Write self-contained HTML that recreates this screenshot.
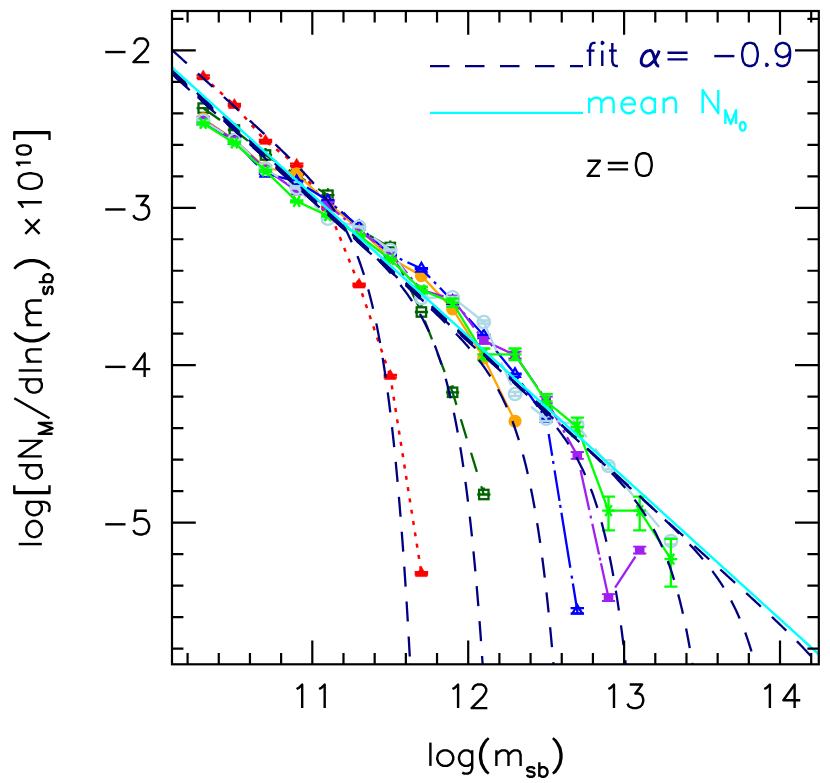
<!DOCTYPE html><html><head><meta charset="utf-8"><title>plot</title><style>html,body{margin:0;padding:0;background:#fff;font-family:"Liberation Sans",sans-serif}svg{display:block}.t path{vector-effect:non-scaling-stroke}</style></head><body>
<svg width="830" height="783" viewBox="0 0 830 783">
<rect width="830" height="783" fill="#fff"/>
<defs><clipPath id="cp"><rect x="172.0" y="11.0" width="646.8" height="653.3"/></clipPath></defs>
<g clip-path="url(#cp)">
<polyline points="203.2,76.6 234.4,105.2 265.5,141.0 296.7,164.9 327.9,207.8" fill="none" stroke="#f00" stroke-width="2.5" stroke-dasharray="4 7.5" stroke-dashoffset="0.25"/>
<line x1="327.9" y1="207.8" x2="359.1" y2="284.8" stroke="#f00" stroke-width="2.5" stroke-dasharray="4 7.7" stroke-dashoffset="3.5"/>
<line x1="359.1" y1="284.8" x2="390.3" y2="376.1" stroke="#f00" stroke-width="2.5" stroke-dasharray="4 7.7" stroke-dashoffset="2.8"/>
<line x1="390.3" y1="376.1" x2="421.4" y2="573.3" stroke="#f00" stroke-width="2.5" stroke-dasharray="4 7.44" stroke-dashoffset="2.0"/>
<path d="M203.2 70.0 L209.0 79.9 L197.4 79.9 Z" fill="#f00" stroke="#f00" stroke-width="0.6"/>
<path d="M196.5 75.4 H209.9 M196.5 77.8 H209.9 M203.2 75.4 V77.8" stroke="#f00" stroke-width="2.3" fill="none"/>
<path d="M234.4 98.6 L240.2 108.5 L228.6 108.5 Z" fill="#f00" stroke="#f00" stroke-width="0.6"/>
<path d="M227.7 104.0 H241.1 M227.7 106.4 H241.1 M234.4 104.0 V106.4" stroke="#f00" stroke-width="2.3" fill="none"/>
<path d="M265.5 134.4 L271.3 144.3 L259.7 144.3 Z" fill="#f00" stroke="#f00" stroke-width="0.6"/>
<path d="M258.8 139.8 H272.2 M258.8 142.2 H272.2 M265.5 139.8 V142.2" stroke="#f00" stroke-width="2.3" fill="none"/>
<path d="M296.7 158.3 L302.5 168.2 L290.9 168.2 Z" fill="#f00" stroke="#f00" stroke-width="0.6"/>
<path d="M290.0 163.7 H303.4 M290.0 166.1 H303.4 M296.7 163.7 V166.1" stroke="#f00" stroke-width="2.3" fill="none"/>
<path d="M327.9 201.2 L333.7 211.1 L322.1 211.1 Z" fill="#f00" stroke="#f00" stroke-width="0.6"/>
<path d="M321.2 206.6 H334.6 M321.2 209.0 H334.6 M327.9 206.6 V209.0" stroke="#f00" stroke-width="2.3" fill="none"/>
<path d="M359.1 278.2 L364.9 288.1 L353.3 288.1 Z" fill="#f00" stroke="#f00" stroke-width="0.6"/>
<path d="M352.4 283.6 H365.8 M352.4 286.0 H365.8 M359.1 283.6 V286.0" stroke="#f00" stroke-width="2.3" fill="none"/>
<path d="M390.3 369.5 L396.1 379.4 L384.5 379.4 Z" fill="#f00" stroke="#f00" stroke-width="0.6"/>
<path d="M383.6 374.9 H397.0 M383.6 377.3 H397.0 M390.3 374.9 V377.3" stroke="#f00" stroke-width="2.3" fill="none"/>
<path d="M421.4 566.7 L427.2 576.6 L415.6 576.6 Z" fill="#f00" stroke="#f00" stroke-width="0.6"/>
<path d="M414.7 572.1 H428.1 M414.7 574.5 H428.1 M421.4 572.1 V574.5" stroke="#f00" stroke-width="2.3" fill="none"/>
<polyline points="203.2,108.1 234.4,130.0 265.5,155.0 296.7,175.0 327.9,195.2 359.1,229.5 390.3,247.5 421.4,312.0 452.6,392.3 483.8,494.5" fill="none" stroke="#006400" stroke-width="2.3" stroke-dasharray="20 15" stroke-dashoffset="34.4"/>
<rect x="198.5" y="103.4" width="9.4" height="9.4" fill="none" stroke="#006400" stroke-width="2.3"/>
<path d="M196.6 108.1 H209.8 M203.2 101.1 V104.1" stroke="#006400" stroke-width="2.3" fill="none"/>
<rect x="229.7" y="125.3" width="9.4" height="9.4" fill="none" stroke="#006400" stroke-width="2.3"/>
<path d="M227.8 130.0 H241.0 M234.4 123.0 V126.0" stroke="#006400" stroke-width="2.3" fill="none"/>
<rect x="260.8" y="150.3" width="9.4" height="9.4" fill="none" stroke="#006400" stroke-width="2.3"/>
<path d="M258.9 155.0 H272.1 M265.5 148.0 V151.0" stroke="#006400" stroke-width="2.3" fill="none"/>
<rect x="292.0" y="170.3" width="9.4" height="9.4" fill="none" stroke="#006400" stroke-width="2.3"/>
<path d="M290.1 175.0 H303.3 M296.7 168.0 V171.0" stroke="#006400" stroke-width="2.3" fill="none"/>
<rect x="323.2" y="190.5" width="9.4" height="9.4" fill="none" stroke="#006400" stroke-width="2.3"/>
<path d="M321.3 195.2 H334.5 M327.9 188.2 V191.2" stroke="#006400" stroke-width="2.3" fill="none"/>
<rect x="354.4" y="224.8" width="9.4" height="9.4" fill="none" stroke="#006400" stroke-width="2.3"/>
<path d="M352.5 229.5 H365.7 M359.1 222.5 V225.5" stroke="#006400" stroke-width="2.3" fill="none"/>
<rect x="385.6" y="242.8" width="9.4" height="9.4" fill="none" stroke="#006400" stroke-width="2.3"/>
<path d="M383.7 247.5 H396.9 M390.3 240.5 V243.5" stroke="#006400" stroke-width="2.3" fill="none"/>
<rect x="416.7" y="307.3" width="9.4" height="9.4" fill="none" stroke="#006400" stroke-width="2.3"/>
<path d="M414.8 312.0 H428.0 M421.4 305.0 V308.0" stroke="#006400" stroke-width="2.3" fill="none"/>
<rect x="447.9" y="387.6" width="9.4" height="9.4" fill="none" stroke="#006400" stroke-width="2.3"/>
<path d="M446.0 392.3 H459.2 M452.6 385.3 V388.3" stroke="#006400" stroke-width="2.3" fill="none"/>
<rect x="479.1" y="489.8" width="9.4" height="9.4" fill="none" stroke="#006400" stroke-width="2.3"/>
<path d="M477.2 494.5 H490.4 M483.8 487.5 V490.5" stroke="#006400" stroke-width="2.3" fill="none"/>
<polyline points="203.2,118.7 234.4,140.0 265.5,167.8 296.7,173.7 327.9,203.0 359.1,229.0 390.3,258.0 421.4,275.7 452.6,308.9 483.8,358.0 515.0,421.2" fill="none" stroke="#ffa500" stroke-width="2.3"/>
<circle cx="203.2" cy="118.7" r="6.5" fill="#ffa500"/>
<circle cx="234.4" cy="140.0" r="6.5" fill="#ffa500"/>
<circle cx="265.5" cy="167.8" r="6.5" fill="#ffa500"/>
<circle cx="296.7" cy="173.7" r="6.5" fill="#ffa500"/>
<circle cx="327.9" cy="203.0" r="6.5" fill="#ffa500"/>
<circle cx="359.1" cy="229.0" r="6.5" fill="#ffa500"/>
<circle cx="390.3" cy="258.0" r="6.5" fill="#ffa500"/>
<circle cx="421.4" cy="275.7" r="6.5" fill="#ffa500"/>
<circle cx="452.6" cy="308.9" r="6.5" fill="#ffa500"/>
<circle cx="483.8" cy="358.0" r="6.5" fill="#ffa500"/>
<circle cx="515.0" cy="421.2" r="6.5" fill="#ffa500"/>
<polyline points="203.2,121.5 234.4,141.0 265.5,173.7 296.7,181.3 327.9,200.5 359.1,226.5 390.3,254.5 421.4,268.6 452.6,301.0 483.8,335.4 515.0,374.0 546.2,418.7" fill="none" stroke="#00f" stroke-width="2.3" stroke-dasharray="28 5.5 3 5.5"/>
<line x1="546.2" y1="418.7" x2="577.3" y2="610.8" stroke="#00f" stroke-width="2.3" stroke-dasharray="0 15.5 22 5.3 3 6.5 31 4 3 5 55.7 8 3 5 60"/>
<path d="M203.2 115.8 L208.1 124.3 L198.2 124.3 Z" fill="none" stroke="#00f" stroke-width="2.3" stroke-linejoin="miter"/>
<path d="M196.5 121.1 H209.9 M196.5 121.9 H209.9 M203.2 121.1 V121.9" stroke="#00f" stroke-width="2.3" fill="none"/>
<path d="M234.4 135.3 L239.3 143.8 L229.4 143.8 Z" fill="none" stroke="#00f" stroke-width="2.3" stroke-linejoin="miter"/>
<path d="M227.7 140.6 H241.1 M227.7 141.4 H241.1 M234.4 140.6 V141.4" stroke="#00f" stroke-width="2.3" fill="none"/>
<path d="M265.5 168.0 L270.5 176.5 L260.6 176.5 Z" fill="none" stroke="#00f" stroke-width="2.3" stroke-linejoin="miter"/>
<path d="M258.8 173.3 H272.2 M258.8 174.1 H272.2 M265.5 173.3 V174.1" stroke="#00f" stroke-width="2.3" fill="none"/>
<path d="M296.7 175.6 L301.7 184.2 L291.8 184.2 Z" fill="none" stroke="#00f" stroke-width="2.3" stroke-linejoin="miter"/>
<path d="M290.0 180.9 H303.4 M290.0 181.7 H303.4 M296.7 180.9 V181.7" stroke="#00f" stroke-width="2.3" fill="none"/>
<path d="M327.9 194.8 L332.8 203.3 L323.0 203.3 Z" fill="none" stroke="#00f" stroke-width="2.3" stroke-linejoin="miter"/>
<path d="M321.2 200.1 H334.6 M321.2 200.9 H334.6 M327.9 200.1 V200.9" stroke="#00f" stroke-width="2.3" fill="none"/>
<path d="M359.1 220.8 L364.0 229.3 L354.1 229.3 Z" fill="none" stroke="#00f" stroke-width="2.3" stroke-linejoin="miter"/>
<path d="M352.4 226.1 H365.8 M352.4 226.9 H365.8 M359.1 226.1 V226.9" stroke="#00f" stroke-width="2.3" fill="none"/>
<path d="M390.3 248.8 L395.2 257.4 L385.3 257.4 Z" fill="none" stroke="#00f" stroke-width="2.3" stroke-linejoin="miter"/>
<path d="M383.6 254.1 H397.0 M383.6 254.9 H397.0 M390.3 254.1 V254.9" stroke="#00f" stroke-width="2.3" fill="none"/>
<path d="M421.4 262.9 L426.4 271.5 L416.5 271.5 Z" fill="none" stroke="#00f" stroke-width="2.3" stroke-linejoin="miter"/>
<path d="M414.7 268.2 H428.1 M414.7 269.0 H428.1 M421.4 268.2 V269.0" stroke="#00f" stroke-width="2.3" fill="none"/>
<path d="M452.6 295.3 L457.6 303.9 L447.7 303.9 Z" fill="none" stroke="#00f" stroke-width="2.3" stroke-linejoin="miter"/>
<path d="M445.9 300.6 H459.3 M445.9 301.4 H459.3 M452.6 300.6 V301.4" stroke="#00f" stroke-width="2.3" fill="none"/>
<path d="M483.8 329.7 L488.7 338.2 L478.9 338.2 Z" fill="none" stroke="#00f" stroke-width="2.3" stroke-linejoin="miter"/>
<path d="M477.1 335.0 H490.5 M477.1 335.8 H490.5 M483.8 335.0 V335.8" stroke="#00f" stroke-width="2.3" fill="none"/>
<path d="M515.0 368.3 L519.9 376.9 L510.0 376.9 Z" fill="none" stroke="#00f" stroke-width="2.3" stroke-linejoin="miter"/>
<path d="M508.3 373.6 H521.7 M508.3 374.4 H521.7 M515.0 373.6 V374.4" stroke="#00f" stroke-width="2.3" fill="none"/>
<path d="M546.2 413.0 L551.1 421.6 L541.2 421.6 Z" fill="none" stroke="#00f" stroke-width="2.3" stroke-linejoin="miter"/>
<path d="M539.5 418.3 H552.9 M539.5 419.1 H552.9 M546.2 418.3 V419.1" stroke="#00f" stroke-width="2.3" fill="none"/>
<path d="M577.3 605.1 L582.3 613.6 L572.4 613.6 Z" fill="none" stroke="#00f" stroke-width="2.3" stroke-linejoin="miter"/>
<path d="M570.6 608.2 H584.0 M570.6 613.3 H584.0 M577.3 608.2 V613.3" stroke="#00f" stroke-width="2.3" fill="none"/>
<polyline points="203.2,120.0 234.4,140.0 265.5,169.0 296.7,191.0 327.9,205.4 359.1,230.5 390.3,253.5 421.4,290.0 452.6,299.0 483.8,340.5 515.0,355.0 546.2,400.0 577.3,455.4" fill="none" stroke="#a020f0" stroke-width="2.3" stroke-dasharray="32 5 3 5"/>
<line x1="577.3" y1="455.4" x2="608.5" y2="597.6" stroke="#a020f0" stroke-width="2.3" stroke-dasharray="0 15 41 5.5 3 5.5 31.5 3 3 3 40"/>
<line x1="608.5" y1="597.6" x2="639.7" y2="550.1" stroke="#a020f0" stroke-width="2.3" stroke-dasharray="0 12 37 20"/>
<rect x="198.4" y="115.8" width="9.6" height="8.4" fill="#a020f0"/>
<path d="M196.6 116.6 H209.8 M196.6 123.4 H209.8" stroke="#a020f0" stroke-width="1.8" fill="none"/>
<rect x="229.6" y="135.8" width="9.6" height="8.4" fill="#a020f0"/>
<path d="M227.8 136.6 H241.0 M227.8 143.4 H241.0" stroke="#a020f0" stroke-width="1.8" fill="none"/>
<rect x="260.7" y="164.8" width="9.6" height="8.4" fill="#a020f0"/>
<path d="M258.9 165.6 H272.1 M258.9 172.4 H272.1" stroke="#a020f0" stroke-width="1.8" fill="none"/>
<rect x="291.9" y="186.8" width="9.6" height="8.4" fill="#a020f0"/>
<path d="M290.1 187.6 H303.3 M290.1 194.4 H303.3" stroke="#a020f0" stroke-width="1.8" fill="none"/>
<rect x="323.1" y="201.2" width="9.6" height="8.4" fill="#a020f0"/>
<path d="M321.3 202.0 H334.5 M321.3 208.8 H334.5" stroke="#a020f0" stroke-width="1.8" fill="none"/>
<rect x="354.3" y="226.3" width="9.6" height="8.4" fill="#a020f0"/>
<path d="M352.5 227.1 H365.7 M352.5 233.9 H365.7" stroke="#a020f0" stroke-width="1.8" fill="none"/>
<rect x="385.5" y="249.3" width="9.6" height="8.4" fill="#a020f0"/>
<path d="M383.7 250.1 H396.9 M383.7 256.9 H396.9" stroke="#a020f0" stroke-width="1.8" fill="none"/>
<rect x="416.6" y="285.8" width="9.6" height="8.4" fill="#a020f0"/>
<path d="M414.8 286.6 H428.0 M414.8 293.4 H428.0" stroke="#a020f0" stroke-width="1.8" fill="none"/>
<rect x="447.8" y="294.8" width="9.6" height="8.4" fill="#a020f0"/>
<path d="M446.0 295.6 H459.2 M446.0 302.4 H459.2" stroke="#a020f0" stroke-width="1.8" fill="none"/>
<rect x="479.0" y="336.3" width="9.6" height="8.4" fill="#a020f0"/>
<path d="M477.2 337.1 H490.4 M477.2 343.9 H490.4" stroke="#a020f0" stroke-width="1.8" fill="none"/>
<rect x="510.2" y="350.8" width="9.6" height="8.4" fill="#a020f0"/>
<path d="M508.4 351.6 H521.6 M508.4 358.4 H521.6" stroke="#a020f0" stroke-width="1.8" fill="none"/>
<rect x="541.4" y="395.8" width="9.6" height="8.4" fill="#a020f0"/>
<path d="M539.6 396.6 H552.8 M539.6 403.4 H552.8" stroke="#a020f0" stroke-width="1.8" fill="none"/>
<rect x="572.5" y="451.2" width="9.6" height="8.4" fill="#a020f0"/>
<path d="M570.7 452.0 H583.9 M570.7 458.8 H583.9" stroke="#a020f0" stroke-width="1.8" fill="none"/>
<rect x="603.7" y="593.4" width="9.6" height="8.4" fill="#a020f0"/>
<path d="M601.9 594.2 H615.1 M601.9 601.0 H615.1" stroke="#a020f0" stroke-width="1.8" fill="none"/>
<rect x="634.9" y="545.9" width="9.6" height="8.4" fill="#a020f0"/>
<path d="M633.1 546.7 H646.3 M633.1 553.5 H646.3" stroke="#a020f0" stroke-width="1.8" fill="none"/>
<polyline points="203.2,120.8 234.4,140.0 265.5,169.0 296.7,188.0 327.9,218.7 359.1,226.8 390.3,250.0 421.4,298.0 452.6,297.3" fill="none" stroke="#add8e6" stroke-width="2.3" stroke-dasharray="24 11"/>
<line x1="452.6" y1="297.3" x2="483.8" y2="322.0" stroke="#add8e6" stroke-width="2.3" stroke-dasharray="100"/>
<line x1="483.8" y1="322.0" x2="515.0" y2="394.0" stroke="#add8e6" stroke-width="2.3" stroke-dasharray="31.7 12.3 25 9.5"/>
<line x1="515.0" y1="394.0" x2="546.2" y2="418.7" stroke="#add8e6" stroke-width="2.3" stroke-dasharray="0 20.5 19.3"/>
<line x1="546.2" y1="418.7" x2="577.3" y2="425.0" stroke="#add8e6" stroke-width="2.3" stroke-dasharray="0 10.8 20.9"/>
<line x1="577.3" y1="425.0" x2="608.5" y2="466.0" stroke="#add8e6" stroke-width="2.3" stroke-dasharray="15.4 14 22.1"/>
<line x1="608.5" y1="466.0" x2="670.9" y2="541.0" stroke="#add8e6" stroke-width="2.3" stroke-dasharray="0 8 30.5 17 24 40"/>
<circle cx="203.2" cy="120.8" r="6.2" fill="none" stroke="#add8e6" stroke-width="2.3"/>
<path d="M197.2 120.3 H209.2 M197.2 121.3 H209.2 M203.2 120.3 V121.3" stroke="#add8e6" stroke-width="2.3" fill="none"/>
<circle cx="234.4" cy="140.0" r="6.2" fill="none" stroke="#add8e6" stroke-width="2.3"/>
<path d="M228.4 139.5 H240.4 M228.4 140.5 H240.4 M234.4 139.5 V140.5" stroke="#add8e6" stroke-width="2.3" fill="none"/>
<circle cx="265.5" cy="169.0" r="6.2" fill="none" stroke="#add8e6" stroke-width="2.3"/>
<path d="M259.5 168.5 H271.5 M259.5 169.5 H271.5 M265.5 168.5 V169.5" stroke="#add8e6" stroke-width="2.3" fill="none"/>
<circle cx="296.7" cy="188.0" r="6.2" fill="none" stroke="#add8e6" stroke-width="2.3"/>
<path d="M290.7 187.5 H302.7 M290.7 188.5 H302.7 M296.7 187.5 V188.5" stroke="#add8e6" stroke-width="2.3" fill="none"/>
<circle cx="327.9" cy="218.7" r="6.2" fill="none" stroke="#add8e6" stroke-width="2.3"/>
<path d="M321.9 218.2 H333.9 M321.9 219.2 H333.9 M327.9 218.2 V219.2" stroke="#add8e6" stroke-width="2.3" fill="none"/>
<circle cx="359.1" cy="226.8" r="6.2" fill="none" stroke="#add8e6" stroke-width="2.3"/>
<path d="M353.1 226.3 H365.1 M353.1 227.3 H365.1 M359.1 226.3 V227.3" stroke="#add8e6" stroke-width="2.3" fill="none"/>
<circle cx="390.3" cy="250.0" r="6.2" fill="none" stroke="#add8e6" stroke-width="2.3"/>
<path d="M384.3 249.5 H396.3 M384.3 250.5 H396.3 M390.3 249.5 V250.5" stroke="#add8e6" stroke-width="2.3" fill="none"/>
<circle cx="421.4" cy="298.0" r="6.2" fill="none" stroke="#add8e6" stroke-width="2.3"/>
<path d="M415.4 297.5 H427.4 M415.4 298.5 H427.4 M421.4 297.5 V298.5" stroke="#add8e6" stroke-width="2.3" fill="none"/>
<circle cx="452.6" cy="297.3" r="6.2" fill="none" stroke="#add8e6" stroke-width="2.3"/>
<path d="M446.6 296.8 H458.6 M446.6 297.8 H458.6 M452.6 296.8 V297.8" stroke="#add8e6" stroke-width="2.3" fill="none"/>
<circle cx="483.8" cy="322.0" r="6.2" fill="none" stroke="#add8e6" stroke-width="2.3"/>
<path d="M477.8 320.5 H489.8 M477.8 323.5 H489.8 M483.8 320.5 V323.5" stroke="#add8e6" stroke-width="2.3" fill="none"/>
<circle cx="515.0" cy="394.0" r="6.2" fill="none" stroke="#add8e6" stroke-width="2.3"/>
<path d="M509.0 392.0 H521.0 M509.0 396.0 H521.0 M515.0 392.0 V396.0" stroke="#add8e6" stroke-width="2.3" fill="none"/>
<circle cx="546.2" cy="418.7" r="6.2" fill="none" stroke="#add8e6" stroke-width="2.3"/>
<path d="M540.2 416.4 H552.2 M540.2 421.0 H552.2 M546.2 416.4 V421.0" stroke="#add8e6" stroke-width="2.3" fill="none"/>
<circle cx="577.3" cy="425.0" r="6.2" fill="none" stroke="#add8e6" stroke-width="2.3"/>
<path d="M571.3 422.2 H583.3 M571.3 427.8 H583.3 M577.3 422.2 V427.8" stroke="#add8e6" stroke-width="2.3" fill="none"/>
<circle cx="608.5" cy="466.0" r="6.2" fill="none" stroke="#add8e6" stroke-width="2.3"/>
<path d="M602.5 462.7 H614.5 M602.5 469.3 H614.5 M608.5 462.7 V469.3" stroke="#add8e6" stroke-width="2.3" fill="none"/>
<circle cx="670.9" cy="541.0" r="6.2" fill="none" stroke="#add8e6" stroke-width="2.3"/>
<path d="M664.9 537.7 H676.9 M664.9 544.3 H676.9 M670.9 537.7 V544.3" stroke="#add8e6" stroke-width="2.3" fill="none"/>
<polyline points="203.2,123.4 234.4,142.9 265.5,170.9 296.7,201.3 327.9,215.7 359.1,235.5 390.3,259.3 421.4,290.0 452.6,302.7 483.8,354.3 515.0,354.3 546.2,401.3 577.3,427.0 608.5,510.7 639.7,510.7 670.9,559.2" fill="none" stroke="#0f0" stroke-width="2.3"/>
<path d="M196.8 123.4 H209.6 M200.0 117.9 L206.4 128.9 M206.4 117.9 L200.0 128.9 " stroke="#0f0" stroke-width="2.3" fill="none"/>
<path d="M203.2 122.4 V124.4 M196.6 122.4 H209.8 M196.6 124.4 H209.8" stroke="#0f0" stroke-width="2.3" fill="none"/>
<path d="M228.0 142.9 H240.8 M231.2 137.4 L237.6 148.4 M237.6 137.4 L231.2 148.4 " stroke="#0f0" stroke-width="2.3" fill="none"/>
<path d="M234.4 141.9 V143.9 M227.8 141.9 H241.0 M227.8 143.9 H241.0" stroke="#0f0" stroke-width="2.3" fill="none"/>
<path d="M259.1 170.9 H271.9 M262.3 165.4 L268.7 176.4 M268.7 165.4 L262.3 176.4 " stroke="#0f0" stroke-width="2.3" fill="none"/>
<path d="M265.5 169.9 V171.9 M258.9 169.9 H272.1 M258.9 171.9 H272.1" stroke="#0f0" stroke-width="2.3" fill="none"/>
<path d="M290.3 201.3 H303.1 M293.5 195.8 L299.9 206.8 M299.9 195.8 L293.5 206.8 " stroke="#0f0" stroke-width="2.3" fill="none"/>
<path d="M296.7 200.3 V202.3 M290.1 200.3 H303.3 M290.1 202.3 H303.3" stroke="#0f0" stroke-width="2.3" fill="none"/>
<path d="M321.5 215.7 H334.3 M324.7 210.2 L331.1 221.2 M331.1 210.2 L324.7 221.2 " stroke="#0f0" stroke-width="2.3" fill="none"/>
<path d="M327.9 214.7 V216.7 M321.3 214.7 H334.5 M321.3 216.7 H334.5" stroke="#0f0" stroke-width="2.3" fill="none"/>
<path d="M352.7 235.5 H365.5 M355.9 230.0 L362.3 241.0 M362.3 230.0 L355.9 241.0 " stroke="#0f0" stroke-width="2.3" fill="none"/>
<path d="M359.1 234.5 V236.5 M352.5 234.5 H365.7 M352.5 236.5 H365.7" stroke="#0f0" stroke-width="2.3" fill="none"/>
<path d="M383.9 259.3 H396.7 M387.1 253.8 L393.5 264.8 M393.5 253.8 L387.1 264.8 " stroke="#0f0" stroke-width="2.3" fill="none"/>
<path d="M390.3 258.3 V260.3 M383.7 258.3 H396.9 M383.7 260.3 H396.9" stroke="#0f0" stroke-width="2.3" fill="none"/>
<path d="M415.0 290.0 H427.8 M418.2 284.5 L424.6 295.5 M424.6 284.5 L418.2 295.5 " stroke="#0f0" stroke-width="2.3" fill="none"/>
<path d="M421.4 287.0 V293.0 M414.8 287.0 H428.0 M414.8 293.0 H428.0" stroke="#0f0" stroke-width="2.3" fill="none"/>
<path d="M446.2 302.7 H459.0 M449.4 297.2 L455.8 308.2 M455.8 297.2 L449.4 308.2 " stroke="#0f0" stroke-width="2.3" fill="none"/>
<path d="M452.6 298.7 V306.7 M446.0 298.7 H459.2 M446.0 306.7 H459.2" stroke="#0f0" stroke-width="2.3" fill="none"/>
<path d="M477.4 354.3 H490.2 M480.6 348.8 L487.0 359.8 M487.0 348.8 L480.6 359.8 " stroke="#0f0" stroke-width="2.3" fill="none"/>
<path d="M483.8 348.5 V360.1 M477.2 348.5 H490.4 M477.2 360.1 H490.4" stroke="#0f0" stroke-width="2.3" fill="none"/>
<path d="M508.6 354.3 H521.4 M511.8 348.8 L518.2 359.8 M518.2 348.8 L511.8 359.8 " stroke="#0f0" stroke-width="2.3" fill="none"/>
<path d="M515.0 348.5 V360.1 M508.4 348.5 H521.6 M508.4 360.1 H521.6" stroke="#0f0" stroke-width="2.3" fill="none"/>
<path d="M539.8 401.3 H552.6 M543.0 395.8 L549.4 406.8 M549.4 395.8 L543.0 406.8 " stroke="#0f0" stroke-width="2.3" fill="none"/>
<path d="M546.2 394.2 V408.5 M539.6 394.2 H552.8 M539.6 408.5 H552.8" stroke="#0f0" stroke-width="2.3" fill="none"/>
<path d="M570.9 427.0 H583.7 M574.1 421.5 L580.5 432.5 M580.5 421.5 L574.1 432.5 " stroke="#0f0" stroke-width="2.3" fill="none"/>
<path d="M577.3 417.7 V436.0 M570.7 417.7 H583.9 M570.7 436.0 H583.9" stroke="#0f0" stroke-width="2.3" fill="none"/>
<path d="M602.1 510.7 H614.9 M605.3 505.2 L611.7 516.2 M611.7 505.2 L605.3 516.2 " stroke="#0f0" stroke-width="2.3" fill="none"/>
<path d="M608.5 496.6 V530.4 M601.9 496.6 H615.1 M601.9 530.4 H615.1" stroke="#0f0" stroke-width="2.3" fill="none"/>
<path d="M633.3 510.7 H646.1 M636.5 505.2 L642.9 516.2 M642.9 505.2 L636.5 516.2 " stroke="#0f0" stroke-width="2.3" fill="none"/>
<path d="M639.7 496.6 V530.4 M633.1 496.6 H646.3 M633.1 530.4 H646.3" stroke="#0f0" stroke-width="2.3" fill="none"/>
<path d="M664.5 559.2 H677.3 M667.7 553.7 L674.1 564.7 M674.1 553.7 L667.7 564.7 " stroke="#0f0" stroke-width="2.3" fill="none"/>
<path d="M670.9 538.8 V586.6 M664.3 538.8 H677.5 M664.3 586.6 H677.5" stroke="#0f0" stroke-width="2.3" fill="none"/>
<polyline points="172.0,50.0 173.0,50.9 174.0,51.8 175.0,52.7 176.0,53.6 177.0,54.5 178.0,55.4 179.0,56.3 180.0,57.2 181.0,58.1 182.0,59.0 183.0,60.0 184.0,60.9 185.0,61.8 186.0,62.7 187.0,63.6 188.0,64.5 189.0,65.4 190.0,66.3 191.0,67.2 192.0,68.1 193.0,69.0 194.0,69.9 195.0,70.8 196.0,71.7 197.0,72.6 198.0,73.5 199.0,74.4 200.0,75.3 201.0,76.2 202.0,77.1 203.0,78.0 204.0,78.9 205.0,79.9 206.0,80.8 207.0,81.7 208.0,82.6 209.0,83.5 210.0,84.4 211.0,85.3 212.0,86.2 213.0,87.1 214.0,88.0 215.0,88.9 216.0,89.8 217.0,90.7 218.0,91.6 219.0,92.5 220.0,93.4 221.0,94.4 222.0,95.3 223.0,96.2 224.0,97.1 225.0,98.0 226.0,98.9 227.0,99.8 228.0,100.7 229.0,101.6 230.0,102.5 231.0,103.4 232.0,104.3 233.0,105.3 234.0,106.2 235.0,107.1 236.0,108.0 237.0,108.9 238.0,109.8 239.0,110.7 240.0,111.6 241.0,112.5 242.0,113.5 243.0,114.4 244.0,115.3 245.0,116.2 246.0,117.1 247.0,118.0 248.0,119.0 249.0,119.9 250.0,120.8 251.0,121.7 252.0,122.6 253.0,123.5 254.0,124.5 255.0,125.4 256.0,126.3 257.0,127.2 258.0,128.2 259.0,129.1 260.0,130.0 261.0,130.9 262.0,131.9 263.0,132.8 264.0,133.7 265.0,134.6 266.0,135.6 267.0,136.5 268.0,137.4 269.0,138.4 270.0,139.3 271.0,140.3 272.0,141.2 273.0,142.1 274.0,143.1 275.0,144.0 276.0,145.0 277.0,145.9 278.0,146.9 279.0,147.8 280.0,148.8 281.0,149.8 282.0,150.7 283.0,151.7 284.0,152.7 285.0,153.6 286.0,154.6 287.0,155.6 288.0,156.6 289.0,157.5 290.0,158.5 291.0,159.5 292.0,160.5 293.0,161.5 294.0,162.5 295.0,163.5 296.0,164.5 297.0,165.6 298.0,166.6 299.0,167.6 300.0,168.6 301.0,169.7 302.0,170.7 303.0,171.8 304.0,172.8 305.0,173.9 306.0,175.0 307.0,176.1 308.0,177.2 309.0,178.3 310.0,179.4 311.0,180.5 312.0,181.6 313.0,182.7 314.0,183.9 315.0,185.0 316.0,186.2 317.0,187.4 318.0,188.6 319.0,189.8 320.0,191.0 321.0,192.3 322.0,193.5 323.0,194.8 324.0,196.1 325.0,197.4 326.0,198.7 327.0,200.0 328.0,201.4 329.0,202.7 330.0,204.1 331.0,205.6 332.0,207.0 333.0,208.5 334.0,210.0 335.0,211.5 336.0,213.0 337.0,214.6 338.0,216.2 339.0,217.9 340.0,219.5 341.0,221.2 342.0,223.0 343.0,224.8 344.0,226.6 345.0,228.5 346.0,230.4 347.0,232.3 348.0,234.3 349.0,236.4 350.0,238.5 351.0,240.6 352.0,242.9 353.0,245.1 354.0,247.5 355.0,249.9 356.0,252.3 357.0,254.9 358.0,257.5 359.0,260.2 360.0,263.0 361.0,265.8 362.0,268.8 363.0,271.8 364.0,274.9 365.0,278.2 366.0,281.5 367.0,285.0 368.0,288.5 369.0,292.2 370.0,296.1 371.0,300.0 372.0,304.1 373.0,308.3 374.0,312.7 375.0,317.2 376.0,321.9 377.0,326.8 378.0,331.9 379.0,337.1 380.0,342.5 381.0,348.2 382.0,354.1 383.0,360.1 384.0,366.5 385.0,373.0 386.0,379.8 387.0,386.9 388.0,394.3 389.0,402.0 390.0,409.9 391.0,418.2 392.0,426.8 393.0,435.8 394.0,445.2 395.0,454.9 396.0,465.0 397.0,475.5 398.0,486.5 399.0,497.9 400.0,509.8 401.0,522.3 402.0,535.2 403.0,548.7 404.0,562.7 405.0,577.3 406.0,592.6 407.0,608.5 408.0,625.1 409.0,642.4 410.0,660.4 411.0,679.2 412.0,698.9" fill="none" stroke="#000080" stroke-width="2.3" stroke-dasharray="20 15" stroke-dashoffset="0"/>
<polyline points="172.0,70.5 173.0,71.4 174.0,72.3 175.0,73.2 176.0,74.1 177.0,75.0 178.0,75.9 179.0,76.8 180.0,77.7 181.0,78.6 182.0,79.5 183.0,80.4 184.0,81.3 185.0,82.2 186.0,83.1 187.0,84.1 188.0,85.0 189.0,85.9 190.0,86.8 191.0,87.7 192.0,88.6 193.0,89.5 194.0,90.4 195.0,91.3 196.0,92.2 197.0,93.1 198.0,94.0 199.0,94.9 200.0,95.8 201.0,96.7 202.0,97.6 203.0,98.5 204.0,99.4 205.0,100.3 206.0,101.2 207.0,102.1 208.0,103.0 209.0,103.9 210.0,104.8 211.0,105.7 212.0,106.6 213.0,107.5 214.0,108.4 215.0,109.3 216.0,110.2 217.0,111.2 218.0,112.1 219.0,113.0 220.0,113.9 221.0,114.8 222.0,115.7 223.0,116.6 224.0,117.5 225.0,118.4 226.0,119.3 227.0,120.2 228.0,121.1 229.0,122.0 230.0,122.9 231.0,123.8 232.0,124.7 233.0,125.6 234.0,126.5 235.0,127.4 236.0,128.3 237.0,129.2 238.0,130.1 239.0,131.0 240.0,131.9 241.0,132.8 242.0,133.7 243.0,134.6 244.0,135.5 245.0,136.4 246.0,137.4 247.0,138.3 248.0,139.2 249.0,140.1 250.0,141.0 251.0,141.9 252.0,142.8 253.0,143.7 254.0,144.6 255.0,145.5 256.0,146.4 257.0,147.3 258.0,148.2 259.0,149.1 260.0,150.0 261.0,150.9 262.0,151.8 263.0,152.7 264.0,153.6 265.0,154.5 266.0,155.4 267.0,156.3 268.0,157.2 269.0,158.1 270.0,159.0 271.0,160.0 272.0,160.9 273.0,161.8 274.0,162.7 275.0,163.6 276.0,164.5 277.0,165.4 278.0,166.3 279.0,167.2 280.0,168.1 281.0,169.0 282.0,169.9 283.0,170.8 284.0,171.7 285.0,172.6 286.0,173.5 287.0,174.4 288.0,175.3 289.0,176.2 290.0,177.2 291.0,178.1 292.0,179.0 293.0,179.9 294.0,180.8 295.0,181.7 296.0,182.6 297.0,183.5 298.0,184.4 299.0,185.3 300.0,186.2 301.0,187.1 302.0,188.0 303.0,188.9 304.0,189.8 305.0,190.8 306.0,191.7 307.0,192.6 308.0,193.5 309.0,194.4 310.0,195.3 311.0,196.2 312.0,197.1 313.0,198.0 314.0,198.9 315.0,199.9 316.0,200.8 317.0,201.7 318.0,202.6 319.0,203.5 320.0,204.4 321.0,205.3 322.0,206.2 323.0,207.2 324.0,208.1 325.0,209.0 326.0,209.9 327.0,210.8 328.0,211.7 329.0,212.7 330.0,213.6 331.0,214.5 332.0,215.4 333.0,216.3 334.0,217.3 335.0,218.2 336.0,219.1 337.0,220.0 338.0,221.0 339.0,221.9 340.0,222.8 341.0,223.7 342.0,224.7 343.0,225.6 344.0,226.5 345.0,227.5 346.0,228.4 347.0,229.3 348.0,230.3 349.0,231.2 350.0,232.2 351.0,233.1 352.0,234.1 353.0,235.0 354.0,235.9 355.0,236.9 356.0,237.9 357.0,238.8 358.0,239.8 359.0,240.7 360.0,241.7 361.0,242.7 362.0,243.6 363.0,244.6 364.0,245.6 365.0,246.5 366.0,247.5 367.0,248.5 368.0,249.5 369.0,250.5 370.0,251.5 371.0,252.5 372.0,253.5 373.0,254.5 374.0,255.5 375.0,256.5 376.0,257.6 377.0,258.6 378.0,259.6 379.0,260.7 380.0,261.7 381.0,262.8 382.0,263.8 383.0,264.9 384.0,266.0 385.0,267.0 386.0,268.1 387.0,269.2 388.0,270.3 389.0,271.5 390.0,272.6 391.0,273.7 392.0,274.9 393.0,276.0 394.0,277.2 395.0,278.4 396.0,279.6 397.0,280.8 398.0,282.0 399.0,283.2 400.0,284.5 401.0,285.8 402.0,287.1 403.0,288.4 404.0,289.7 405.0,291.0 406.0,292.4 407.0,293.7 408.0,295.1 409.0,296.6 410.0,298.0 411.0,299.5 412.0,301.0 413.0,302.5 414.0,304.1 415.0,305.6 416.0,307.3 417.0,308.9 418.0,310.6 419.0,312.3 420.0,314.0 421.0,315.8 422.0,317.7 423.0,319.5 424.0,321.4 425.0,323.4 426.0,325.4 427.0,327.5 428.0,329.6 429.0,331.7 430.0,334.0 431.0,336.2 432.0,338.6 433.0,341.0 434.0,343.5 435.0,346.0 436.0,348.6 437.0,351.3 438.0,354.1 439.0,357.0 440.0,359.9 441.0,363.0 442.0,366.1 443.0,369.4 444.0,372.7 445.0,376.2 446.0,379.8 447.0,383.5 448.0,387.3 449.0,391.3 450.0,395.4 451.0,399.6 452.0,404.0 453.0,408.6 454.0,413.3 455.0,418.2 456.0,423.2 457.0,428.5 458.0,434.0 459.0,439.6 460.0,445.5 461.0,451.6 462.0,458.0 463.0,464.6 464.0,471.4 465.0,478.5 466.0,485.9 467.0,493.6 468.0,501.6 469.0,509.9 470.0,518.6 471.0,527.6 472.0,537.0 473.0,546.7 474.0,556.9 475.0,567.5 476.0,578.5 477.0,590.0 478.0,601.9 479.0,614.4 480.0,627.4 481.0,640.9 482.0,655.0 483.0,669.7 484.0,685.0 485.0,701.0" fill="none" stroke="#000080" stroke-width="2.3" stroke-dasharray="20 15" stroke-dashoffset="1.5"/>
<polyline points="172.0,73.8 173.0,74.7 174.0,75.6 175.0,76.5 176.0,77.4 177.0,78.3 178.0,79.2 179.0,80.1 180.0,81.0 181.0,81.9 182.0,82.8 183.0,83.7 184.0,84.6 185.0,85.5 186.0,86.4 187.0,87.3 188.0,88.3 189.0,89.2 190.0,90.1 191.0,91.0 192.0,91.9 193.0,92.8 194.0,93.7 195.0,94.6 196.0,95.5 197.0,96.4 198.0,97.3 199.0,98.2 200.0,99.1 201.0,100.0 202.0,100.9 203.0,101.8 204.0,102.7 205.0,103.6 206.0,104.5 207.0,105.4 208.0,106.3 209.0,107.2 210.0,108.1 211.0,109.0 212.0,109.9 213.0,110.8 214.0,111.7 215.0,112.6 216.0,113.5 217.0,114.4 218.0,115.4 219.0,116.3 220.0,117.2 221.0,118.1 222.0,119.0 223.0,119.9 224.0,120.8 225.0,121.7 226.0,122.6 227.0,123.5 228.0,124.4 229.0,125.3 230.0,126.2 231.0,127.1 232.0,128.0 233.0,128.9 234.0,129.8 235.0,130.7 236.0,131.6 237.0,132.5 238.0,133.4 239.0,134.3 240.0,135.2 241.0,136.1 242.0,137.0 243.0,137.9 244.0,138.8 245.0,139.7 246.0,140.6 247.0,141.5 248.0,142.5 249.0,143.4 250.0,144.3 251.0,145.2 252.0,146.1 253.0,147.0 254.0,147.9 255.0,148.8 256.0,149.7 257.0,150.6 258.0,151.5 259.0,152.4 260.0,153.3 261.0,154.2 262.0,155.1 263.0,156.0 264.0,156.9 265.0,157.8 266.0,158.7 267.0,159.6 268.0,160.5 269.0,161.4 270.0,162.3 271.0,163.2 272.0,164.1 273.0,165.0 274.0,165.9 275.0,166.8 276.0,167.7 277.0,168.6 278.0,169.6 279.0,170.5 280.0,171.4 281.0,172.3 282.0,173.2 283.0,174.1 284.0,175.0 285.0,175.9 286.0,176.8 287.0,177.7 288.0,178.6 289.0,179.5 290.0,180.4 291.0,181.3 292.0,182.2 293.0,183.1 294.0,184.0 295.0,184.9 296.0,185.8 297.0,186.7 298.0,187.6 299.0,188.5 300.0,189.4 301.0,190.3 302.0,191.2 303.0,192.1 304.0,193.0 305.0,193.9 306.0,194.8 307.0,195.7 308.0,196.7 309.0,197.6 310.0,198.5 311.0,199.4 312.0,200.3 313.0,201.2 314.0,202.1 315.0,203.0 316.0,203.9 317.0,204.8 318.0,205.7 319.0,206.6 320.0,207.5 321.0,208.4 322.0,209.3 323.0,210.2 324.0,211.1 325.0,212.0 326.0,212.9 327.0,213.8 328.0,214.7 329.0,215.6 330.0,216.5 331.0,217.4 332.0,218.3 333.0,219.2 334.0,220.1 335.0,221.1 336.0,222.0 337.0,222.9 338.0,223.8 339.0,224.7 340.0,225.6 341.0,226.5 342.0,227.4 343.0,228.3 344.0,229.2 345.0,230.1 346.0,231.0 347.0,231.9 348.0,232.8 349.0,233.7 350.0,234.6 351.0,235.5 352.0,236.4 353.0,237.3 354.0,238.2 355.0,239.1 356.0,240.0 357.0,241.0 358.0,241.9 359.0,242.8 360.0,243.7 361.0,244.6 362.0,245.5 363.0,246.4 364.0,247.3 365.0,248.2 366.0,249.1 367.0,250.0 368.0,250.9 369.0,251.8 370.0,252.7 371.0,253.6 372.0,254.5 373.0,255.4 374.0,256.4 375.0,257.3 376.0,258.2 377.0,259.1 378.0,260.0 379.0,260.9 380.0,261.8 381.0,262.7 382.0,263.6 383.0,264.5 384.0,265.4 385.0,266.3 386.0,267.3 387.0,268.2 388.0,269.1 389.0,270.0 390.0,270.9 391.0,271.8 392.0,272.7 393.0,273.6 394.0,274.5 395.0,275.5 396.0,276.4 397.0,277.3 398.0,278.2 399.0,279.1 400.0,280.0 401.0,280.9 402.0,281.9 403.0,282.8 404.0,283.7 405.0,284.6 406.0,285.5 407.0,286.4 408.0,287.4 409.0,288.3 410.0,289.2 411.0,290.1 412.0,291.1 413.0,292.0 414.0,292.9 415.0,293.8 416.0,294.8 417.0,295.7 418.0,296.6 419.0,297.6 420.0,298.5 421.0,299.4 422.0,300.4 423.0,301.3 424.0,302.2 425.0,303.2 426.0,304.1 427.0,305.0 428.0,306.0 429.0,306.9 430.0,307.9 431.0,308.8 432.0,309.8 433.0,310.7 434.0,311.7 435.0,312.7 436.0,313.6 437.0,314.6 438.0,315.6 439.0,316.5 440.0,317.5 441.0,318.5 442.0,319.5 443.0,320.4 444.0,321.4 445.0,322.4 446.0,323.4 447.0,324.4 448.0,325.4 449.0,326.4 450.0,327.4 451.0,328.4 452.0,329.5 453.0,330.5 454.0,331.5 455.0,332.6 456.0,333.6 457.0,334.7 458.0,335.7 459.0,336.8 460.0,337.9 461.0,338.9 462.0,340.0 463.0,341.1 464.0,342.2 465.0,343.3 466.0,344.5 467.0,345.6 468.0,346.7 469.0,347.9 470.0,349.1 471.0,350.2 472.0,351.4 473.0,352.6 474.0,353.9 475.0,355.1 476.0,356.3 477.0,357.6 478.0,358.9 479.0,360.2 480.0,361.5 481.0,362.8 482.0,364.2 483.0,365.6 484.0,366.9 485.0,368.4 486.0,369.8 487.0,371.3 488.0,372.8 489.0,374.3 490.0,375.8 491.0,377.4 492.0,379.0 493.0,380.6 494.0,382.3 495.0,384.0 496.0,385.7 497.0,387.5 498.0,389.3 499.0,391.2 500.0,393.1 501.0,395.0 502.0,397.0 503.0,399.1 504.0,401.2 505.0,403.3 506.0,405.5 507.0,407.8 508.0,410.1 509.0,412.5 510.0,414.9 511.0,417.5 512.0,420.1 513.0,422.7 514.0,425.5 515.0,428.3 516.0,431.3 517.0,434.3 518.0,437.4 519.0,440.6 520.0,443.9 521.0,447.4 522.0,450.9 523.0,454.6 524.0,458.4 525.0,462.3 526.0,466.3 527.0,470.5 528.0,474.9 529.0,479.4 530.0,484.1 531.0,488.9 532.0,493.9 533.0,499.1 534.0,504.5 535.0,510.1 536.0,516.0 537.0,522.0 538.0,528.3 539.0,534.8 540.0,541.5 541.0,548.6 542.0,555.9 543.0,563.5 544.0,571.4 545.0,579.6 546.0,588.2 547.0,597.1 548.0,606.3 549.0,616.0 550.0,626.0 551.0,636.5 552.0,647.4 553.0,658.7 554.0,670.5 555.0,682.8 556.0,695.6" fill="none" stroke="#000080" stroke-width="2.3" stroke-dasharray="20 15" stroke-dashoffset="0"/>
<polyline points="172.0,71.5 173.0,72.4 174.0,73.3 175.0,74.2 176.0,75.1 177.0,76.0 178.0,76.9 179.0,77.8 180.0,78.7 181.0,79.6 182.0,80.5 183.0,81.4 184.0,82.3 185.0,83.2 186.0,84.1 187.0,85.0 188.0,86.0 189.0,86.9 190.0,87.8 191.0,88.7 192.0,89.6 193.0,90.5 194.0,91.4 195.0,92.3 196.0,93.2 197.0,94.1 198.0,95.0 199.0,95.9 200.0,96.8 201.0,97.7 202.0,98.6 203.0,99.5 204.0,100.4 205.0,101.3 206.0,102.2 207.0,103.1 208.0,104.0 209.0,104.9 210.0,105.8 211.0,106.7 212.0,107.6 213.0,108.5 214.0,109.4 215.0,110.3 216.0,111.2 217.0,112.1 218.0,113.1 219.0,114.0 220.0,114.9 221.0,115.8 222.0,116.7 223.0,117.6 224.0,118.5 225.0,119.4 226.0,120.3 227.0,121.2 228.0,122.1 229.0,123.0 230.0,123.9 231.0,124.8 232.0,125.7 233.0,126.6 234.0,127.5 235.0,128.4 236.0,129.3 237.0,130.2 238.0,131.1 239.0,132.0 240.0,132.9 241.0,133.8 242.0,134.7 243.0,135.6 244.0,136.5 245.0,137.4 246.0,138.3 247.0,139.2 248.0,140.2 249.0,141.1 250.0,142.0 251.0,142.9 252.0,143.8 253.0,144.7 254.0,145.6 255.0,146.5 256.0,147.4 257.0,148.3 258.0,149.2 259.0,150.1 260.0,151.0 261.0,151.9 262.0,152.8 263.0,153.7 264.0,154.6 265.0,155.5 266.0,156.4 267.0,157.3 268.0,158.2 269.0,159.1 270.0,160.0 271.0,160.9 272.0,161.8 273.0,162.7 274.0,163.6 275.0,164.5 276.0,165.4 277.0,166.3 278.0,167.2 279.0,168.2 280.0,169.1 281.0,170.0 282.0,170.9 283.0,171.8 284.0,172.7 285.0,173.6 286.0,174.5 287.0,175.4 288.0,176.3 289.0,177.2 290.0,178.1 291.0,179.0 292.0,179.9 293.0,180.8 294.0,181.7 295.0,182.6 296.0,183.5 297.0,184.4 298.0,185.3 299.0,186.2 300.0,187.1 301.0,188.0 302.0,188.9 303.0,189.8 304.0,190.7 305.0,191.6 306.0,192.5 307.0,193.4 308.0,194.3 309.0,195.3 310.0,196.2 311.0,197.1 312.0,198.0 313.0,198.9 314.0,199.8 315.0,200.7 316.0,201.6 317.0,202.5 318.0,203.4 319.0,204.3 320.0,205.2 321.0,206.1 322.0,207.0 323.0,207.9 324.0,208.8 325.0,209.7 326.0,210.6 327.0,211.5 328.0,212.4 329.0,213.3 330.0,214.2 331.0,215.1 332.0,216.0 333.0,216.9 334.0,217.8 335.0,218.7 336.0,219.6 337.0,220.5 338.0,221.4 339.0,222.4 340.0,223.3 341.0,224.2 342.0,225.1 343.0,226.0 344.0,226.9 345.0,227.8 346.0,228.7 347.0,229.6 348.0,230.5 349.0,231.4 350.0,232.3 351.0,233.2 352.0,234.1 353.0,235.0 354.0,235.9 355.0,236.8 356.0,237.7 357.0,238.6 358.0,239.5 359.0,240.4 360.0,241.3 361.0,242.2 362.0,243.1 363.0,244.0 364.0,244.9 365.0,245.8 366.0,246.7 367.0,247.6 368.0,248.5 369.0,249.5 370.0,250.4 371.0,251.3 372.0,252.2 373.0,253.1 374.0,254.0 375.0,254.9 376.0,255.8 377.0,256.7 378.0,257.6 379.0,258.5 380.0,259.4 381.0,260.3 382.0,261.2 383.0,262.1 384.0,263.0 385.0,263.9 386.0,264.8 387.0,265.7 388.0,266.6 389.0,267.5 390.0,268.4 391.0,269.3 392.0,270.2 393.0,271.1 394.0,272.0 395.0,272.9 396.0,273.8 397.0,274.7 398.0,275.7 399.0,276.6 400.0,277.5 401.0,278.4 402.0,279.3 403.0,280.2 404.0,281.1 405.0,282.0 406.0,282.9 407.0,283.8 408.0,284.7 409.0,285.6 410.0,286.5 411.0,287.4 412.0,288.3 413.0,289.2 414.0,290.1 415.0,291.0 416.0,291.9 417.0,292.8 418.0,293.7 419.0,294.6 420.0,295.5 421.0,296.4 422.0,297.3 423.0,298.3 424.0,299.2 425.0,300.1 426.0,301.0 427.0,301.9 428.0,302.8 429.0,303.7 430.0,304.6 431.0,305.5 432.0,306.4 433.0,307.3 434.0,308.2 435.0,309.1 436.0,310.0 437.0,310.9 438.0,311.8 439.0,312.7 440.0,313.6 441.0,314.5 442.0,315.4 443.0,316.4 444.0,317.3 445.0,318.2 446.0,319.1 447.0,320.0 448.0,320.9 449.0,321.8 450.0,322.7 451.0,323.6 452.0,324.5 453.0,325.4 454.0,326.3 455.0,327.2 456.0,328.1 457.0,329.0 458.0,330.0 459.0,330.9 460.0,331.8 461.0,332.7 462.0,333.6 463.0,334.5 464.0,335.4 465.0,336.3 466.0,337.2 467.0,338.1 468.0,339.0 469.0,340.0 470.0,340.9 471.0,341.8 472.0,342.7 473.0,343.6 474.0,344.5 475.0,345.4 476.0,346.3 477.0,347.3 478.0,348.2 479.0,349.1 480.0,350.0 481.0,350.9 482.0,351.8 483.0,352.8 484.0,353.7 485.0,354.6 486.0,355.5 487.0,356.4 488.0,357.4 489.0,358.3 490.0,359.2 491.0,360.1 492.0,361.0 493.0,362.0 494.0,362.9 495.0,363.8 496.0,364.8 497.0,365.7 498.0,366.6 499.0,367.5 500.0,368.5 501.0,369.4 502.0,370.4 503.0,371.3 504.0,372.2 505.0,373.2 506.0,374.1 507.0,375.1 508.0,376.0 509.0,377.0 510.0,377.9 511.0,378.9 512.0,379.8 513.0,380.8 514.0,381.7 515.0,382.7 516.0,383.7 517.0,384.6 518.0,385.6 519.0,386.6 520.0,387.5 521.0,388.5 522.0,389.5 523.0,390.5 524.0,391.5 525.0,392.5 526.0,393.5 527.0,394.5 528.0,395.5 529.0,396.5 530.0,397.5 531.0,398.5 532.0,399.6 533.0,400.6 534.0,401.6 535.0,402.7 536.0,403.7 537.0,404.8 538.0,405.9 539.0,406.9 540.0,408.0 541.0,409.1 542.0,410.2 543.0,411.3 544.0,412.4 545.0,413.6 546.0,414.7 547.0,415.8 548.0,417.0 549.0,418.2 550.0,419.3 551.0,420.5 552.0,421.7 553.0,423.0 554.0,424.2 555.0,425.4 556.0,426.7 557.0,428.0 558.0,429.3 559.0,430.6 560.0,431.9 561.0,433.3 562.0,434.7 563.0,436.1 564.0,437.5 565.0,438.9 566.0,440.4 567.0,441.9 568.0,443.4 569.0,444.9 570.0,446.5 571.0,448.1 572.0,449.8 573.0,451.4 574.0,453.1 575.0,454.9 576.0,456.7 577.0,458.5 578.0,460.3 579.0,462.2 580.0,464.2 581.0,466.2 582.0,468.2 583.0,470.3 584.0,472.5 585.0,474.7 586.0,477.0 587.0,479.3 588.0,481.7 589.0,484.2 590.0,486.7 591.0,489.3 592.0,492.0 593.0,494.7 594.0,497.6 595.0,500.5 596.0,503.6 597.0,506.7 598.0,509.9 599.0,513.2 600.0,516.7 601.0,520.2 602.0,523.9 603.0,527.7 604.0,531.7 605.0,535.7 606.0,539.9 607.0,544.3 608.0,548.8 609.0,553.5 610.0,558.4 611.0,563.4 612.0,568.6 613.0,574.1 614.0,579.7 615.0,585.5 616.0,591.6 617.0,597.9 618.0,604.4 619.0,611.2 620.0,618.3 621.0,625.6 622.0,633.2 623.0,641.2 624.0,649.4 625.0,658.0 626.0,667.0 627.0,676.3 628.0,685.9 629.0,696.0" fill="none" stroke="#000080" stroke-width="2.3" stroke-dasharray="20 15" stroke-dashoffset="0"/>
<polyline points="172.0,72.5 173.0,73.4 174.0,74.3 175.0,75.2 176.0,76.1 177.0,77.0 178.0,77.9 179.0,78.8 180.0,79.7 181.0,80.6 182.0,81.5 183.0,82.4 184.0,83.3 185.0,84.2 186.0,85.1 187.0,86.0 188.0,87.0 189.0,87.9 190.0,88.8 191.0,89.7 192.0,90.6 193.0,91.5 194.0,92.4 195.0,93.3 196.0,94.2 197.0,95.1 198.0,96.0 199.0,96.9 200.0,97.8 201.0,98.7 202.0,99.6 203.0,100.5 204.0,101.4 205.0,102.3 206.0,103.2 207.0,104.1 208.0,105.0 209.0,105.9 210.0,106.8 211.0,107.7 212.0,108.6 213.0,109.5 214.0,110.4 215.0,111.3 216.0,112.2 217.0,113.1 218.0,114.1 219.0,115.0 220.0,115.9 221.0,116.8 222.0,117.7 223.0,118.6 224.0,119.5 225.0,120.4 226.0,121.3 227.0,122.2 228.0,123.1 229.0,124.0 230.0,124.9 231.0,125.8 232.0,126.7 233.0,127.6 234.0,128.5 235.0,129.4 236.0,130.3 237.0,131.2 238.0,132.1 239.0,133.0 240.0,133.9 241.0,134.8 242.0,135.7 243.0,136.6 244.0,137.5 245.0,138.4 246.0,139.3 247.0,140.2 248.0,141.2 249.0,142.1 250.0,143.0 251.0,143.9 252.0,144.8 253.0,145.7 254.0,146.6 255.0,147.5 256.0,148.4 257.0,149.3 258.0,150.2 259.0,151.1 260.0,152.0 261.0,152.9 262.0,153.8 263.0,154.7 264.0,155.6 265.0,156.5 266.0,157.4 267.0,158.3 268.0,159.2 269.0,160.1 270.0,161.0 271.0,161.9 272.0,162.8 273.0,163.7 274.0,164.6 275.0,165.5 276.0,166.4 277.0,167.3 278.0,168.2 279.0,169.2 280.0,170.1 281.0,171.0 282.0,171.9 283.0,172.8 284.0,173.7 285.0,174.6 286.0,175.5 287.0,176.4 288.0,177.3 289.0,178.2 290.0,179.1 291.0,180.0 292.0,180.9 293.0,181.8 294.0,182.7 295.0,183.6 296.0,184.5 297.0,185.4 298.0,186.3 299.0,187.2 300.0,188.1 301.0,189.0 302.0,189.9 303.0,190.8 304.0,191.7 305.0,192.6 306.0,193.5 307.0,194.4 308.0,195.3 309.0,196.3 310.0,197.2 311.0,198.1 312.0,199.0 313.0,199.9 314.0,200.8 315.0,201.7 316.0,202.6 317.0,203.5 318.0,204.4 319.0,205.3 320.0,206.2 321.0,207.1 322.0,208.0 323.0,208.9 324.0,209.8 325.0,210.7 326.0,211.6 327.0,212.5 328.0,213.4 329.0,214.3 330.0,215.2 331.0,216.1 332.0,217.0 333.0,217.9 334.0,218.8 335.0,219.7 336.0,220.6 337.0,221.5 338.0,222.4 339.0,223.4 340.0,224.3 341.0,225.2 342.0,226.1 343.0,227.0 344.0,227.9 345.0,228.8 346.0,229.7 347.0,230.6 348.0,231.5 349.0,232.4 350.0,233.3 351.0,234.2 352.0,235.1 353.0,236.0 354.0,236.9 355.0,237.8 356.0,238.7 357.0,239.6 358.0,240.5 359.0,241.4 360.0,242.3 361.0,243.2 362.0,244.1 363.0,245.0 364.0,245.9 365.0,246.8 366.0,247.7 367.0,248.6 368.0,249.5 369.0,250.5 370.0,251.4 371.0,252.3 372.0,253.2 373.0,254.1 374.0,255.0 375.0,255.9 376.0,256.8 377.0,257.7 378.0,258.6 379.0,259.5 380.0,260.4 381.0,261.3 382.0,262.2 383.0,263.1 384.0,264.0 385.0,264.9 386.0,265.8 387.0,266.7 388.0,267.6 389.0,268.5 390.0,269.4 391.0,270.3 392.0,271.2 393.0,272.1 394.0,273.0 395.0,273.9 396.0,274.8 397.0,275.7 398.0,276.6 399.0,277.5 400.0,278.5 401.0,279.4 402.0,280.3 403.0,281.2 404.0,282.1 405.0,283.0 406.0,283.9 407.0,284.8 408.0,285.7 409.0,286.6 410.0,287.5 411.0,288.4 412.0,289.3 413.0,290.2 414.0,291.1 415.0,292.0 416.0,292.9 417.0,293.8 418.0,294.7 419.0,295.6 420.0,296.5 421.0,297.4 422.0,298.3 423.0,299.2 424.0,300.1 425.0,301.0 426.0,301.9 427.0,302.8 428.0,303.7 429.0,304.6 430.0,305.6 431.0,306.5 432.0,307.4 433.0,308.3 434.0,309.2 435.0,310.1 436.0,311.0 437.0,311.9 438.0,312.8 439.0,313.7 440.0,314.6 441.0,315.5 442.0,316.4 443.0,317.3 444.0,318.2 445.0,319.1 446.0,320.0 447.0,320.9 448.0,321.8 449.0,322.7 450.0,323.6 451.0,324.5 452.0,325.4 453.0,326.3 454.0,327.2 455.0,328.1 456.0,329.0 457.0,329.9 458.0,330.8 459.0,331.8 460.0,332.7 461.0,333.6 462.0,334.5 463.0,335.4 464.0,336.3 465.0,337.2 466.0,338.1 467.0,339.0 468.0,339.9 469.0,340.8 470.0,341.7 471.0,342.6 472.0,343.5 473.0,344.4 474.0,345.3 475.0,346.2 476.0,347.1 477.0,348.0 478.0,348.9 479.0,349.8 480.0,350.7 481.0,351.6 482.0,352.5 483.0,353.4 484.0,354.3 485.0,355.2 486.0,356.1 487.0,357.1 488.0,358.0 489.0,358.9 490.0,359.8 491.0,360.7 492.0,361.6 493.0,362.5 494.0,363.4 495.0,364.3 496.0,365.2 497.0,366.1 498.0,367.0 499.0,367.9 500.0,368.8 501.0,369.7 502.0,370.6 503.0,371.5 504.0,372.4 505.0,373.3 506.0,374.2 507.0,375.1 508.0,376.0 509.0,376.9 510.0,377.9 511.0,378.8 512.0,379.7 513.0,380.6 514.0,381.5 515.0,382.4 516.0,383.3 517.0,384.2 518.0,385.1 519.0,386.0 520.0,386.9 521.0,387.8 522.0,388.7 523.0,389.6 524.0,390.5 525.0,391.4 526.0,392.3 527.0,393.3 528.0,394.2 529.0,395.1 530.0,396.0 531.0,396.9 532.0,397.8 533.0,398.7 534.0,399.6 535.0,400.5 536.0,401.4 537.0,402.3 538.0,403.2 539.0,404.1 540.0,405.1 541.0,406.0 542.0,406.9 543.0,407.8 544.0,408.7 545.0,409.6 546.0,410.5 547.0,411.4 548.0,412.3 549.0,413.3 550.0,414.2 551.0,415.1 552.0,416.0 553.0,416.9 554.0,417.8 555.0,418.7 556.0,419.7 557.0,420.6 558.0,421.5 559.0,422.4 560.0,423.3 561.0,424.2 562.0,425.2 563.0,426.1 564.0,427.0 565.0,427.9 566.0,428.8 567.0,429.8 568.0,430.7 569.0,431.6 570.0,432.5 571.0,433.5 572.0,434.4 573.0,435.3 574.0,436.3 575.0,437.2 576.0,438.1 577.0,439.1 578.0,440.0 579.0,440.9 580.0,441.9 581.0,442.8 582.0,443.8 583.0,444.7 584.0,445.7 585.0,446.6 586.0,447.6 587.0,448.5 588.0,449.5 589.0,450.4 590.0,451.4 591.0,452.3 592.0,453.3 593.0,454.3 594.0,455.2 595.0,456.2 596.0,457.2 597.0,458.2 598.0,459.2 599.0,460.1 600.0,461.1 601.0,462.1 602.0,463.1 603.0,464.1 604.0,465.1 605.0,466.1 606.0,467.2 607.0,468.2 608.0,469.2 609.0,470.3 610.0,471.3 611.0,472.3 612.0,473.4 613.0,474.4 614.0,475.5 615.0,476.6 616.0,477.7 617.0,478.8 618.0,479.9 619.0,481.0 620.0,482.1 621.0,483.2 622.0,484.3 623.0,485.5 624.0,486.6 625.0,487.8 626.0,489.0 627.0,490.2 628.0,491.4 629.0,492.6 630.0,493.8 631.0,495.1 632.0,496.4 633.0,497.6 634.0,498.9 635.0,500.3 636.0,501.6 637.0,502.9 638.0,504.3 639.0,505.7 640.0,507.1 641.0,508.6 642.0,510.0 643.0,511.5 644.0,513.0 645.0,514.6 646.0,516.2 647.0,517.8 648.0,519.4 649.0,521.1 650.0,522.8 651.0,524.5 652.0,526.3 653.0,528.1 654.0,530.0 655.0,531.9 656.0,533.8 657.0,535.8 658.0,537.9 659.0,540.0 660.0,542.1 661.0,544.3 662.0,546.6 663.0,548.9 664.0,551.3 665.0,553.8 666.0,556.3 667.0,558.9 668.0,561.6 669.0,564.4 670.0,567.2 671.0,570.2 672.0,573.2 673.0,576.3 674.0,579.6 675.0,582.9 676.0,586.3 677.0,589.9 678.0,593.6 679.0,597.4 680.0,601.3 681.0,605.4 682.0,609.6 683.0,614.0 684.0,618.5 685.0,623.2 686.0,628.0 687.0,633.1 688.0,638.3 689.0,643.7 690.0,649.3 691.0,655.2 692.0,661.2 693.0,667.5 694.0,674.1 695.0,680.9 696.0,687.9 697.0,695.3" fill="none" stroke="#000080" stroke-width="2.3" stroke-dasharray="20 15" stroke-dashoffset="0"/>
<polyline points="172.0,73.3 173.0,74.2 174.0,75.1 175.0,76.0 176.0,76.9 177.0,77.8 178.0,78.7 179.0,79.6 180.0,80.5 181.0,81.4 182.0,82.3 183.0,83.2 184.0,84.1 185.0,85.0 186.0,85.9 187.0,86.8 188.0,87.8 189.0,88.7 190.0,89.6 191.0,90.5 192.0,91.4 193.0,92.3 194.0,93.2 195.0,94.1 196.0,95.0 197.0,95.9 198.0,96.8 199.0,97.7 200.0,98.6 201.0,99.5 202.0,100.4 203.0,101.3 204.0,102.2 205.0,103.1 206.0,104.0 207.0,104.9 208.0,105.8 209.0,106.7 210.0,107.6 211.0,108.5 212.0,109.4 213.0,110.3 214.0,111.2 215.0,112.1 216.0,113.0 217.0,113.9 218.0,114.9 219.0,115.8 220.0,116.7 221.0,117.6 222.0,118.5 223.0,119.4 224.0,120.3 225.0,121.2 226.0,122.1 227.0,123.0 228.0,123.9 229.0,124.8 230.0,125.7 231.0,126.6 232.0,127.5 233.0,128.4 234.0,129.3 235.0,130.2 236.0,131.1 237.0,132.0 238.0,132.9 239.0,133.8 240.0,134.7 241.0,135.6 242.0,136.5 243.0,137.4 244.0,138.3 245.0,139.2 246.0,140.1 247.0,141.0 248.0,142.0 249.0,142.9 250.0,143.8 251.0,144.7 252.0,145.6 253.0,146.5 254.0,147.4 255.0,148.3 256.0,149.2 257.0,150.1 258.0,151.0 259.0,151.9 260.0,152.8 261.0,153.7 262.0,154.6 263.0,155.5 264.0,156.4 265.0,157.3 266.0,158.2 267.0,159.1 268.0,160.0 269.0,160.9 270.0,161.8 271.0,162.7 272.0,163.6 273.0,164.5 274.0,165.4 275.0,166.3 276.0,167.2 277.0,168.1 278.0,169.0 279.0,170.0 280.0,170.9 281.0,171.8 282.0,172.7 283.0,173.6 284.0,174.5 285.0,175.4 286.0,176.3 287.0,177.2 288.0,178.1 289.0,179.0 290.0,179.9 291.0,180.8 292.0,181.7 293.0,182.6 294.0,183.5 295.0,184.4 296.0,185.3 297.0,186.2 298.0,187.1 299.0,188.0 300.0,188.9 301.0,189.8 302.0,190.7 303.0,191.6 304.0,192.5 305.0,193.4 306.0,194.3 307.0,195.2 308.0,196.1 309.0,197.1 310.0,198.0 311.0,198.9 312.0,199.8 313.0,200.7 314.0,201.6 315.0,202.5 316.0,203.4 317.0,204.3 318.0,205.2 319.0,206.1 320.0,207.0 321.0,207.9 322.0,208.8 323.0,209.7 324.0,210.6 325.0,211.5 326.0,212.4 327.0,213.3 328.0,214.2 329.0,215.1 330.0,216.0 331.0,216.9 332.0,217.8 333.0,218.7 334.0,219.6 335.0,220.5 336.0,221.4 337.0,222.3 338.0,223.2 339.0,224.2 340.0,225.1 341.0,226.0 342.0,226.9 343.0,227.8 344.0,228.7 345.0,229.6 346.0,230.5 347.0,231.4 348.0,232.3 349.0,233.2 350.0,234.1 351.0,235.0 352.0,235.9 353.0,236.8 354.0,237.7 355.0,238.6 356.0,239.5 357.0,240.4 358.0,241.3 359.0,242.2 360.0,243.1 361.0,244.0 362.0,244.9 363.0,245.8 364.0,246.7 365.0,247.6 366.0,248.5 367.0,249.4 368.0,250.3 369.0,251.3 370.0,252.2 371.0,253.1 372.0,254.0 373.0,254.9 374.0,255.8 375.0,256.7 376.0,257.6 377.0,258.5 378.0,259.4 379.0,260.3 380.0,261.2 381.0,262.1 382.0,263.0 383.0,263.9 384.0,264.8 385.0,265.7 386.0,266.6 387.0,267.5 388.0,268.4 389.0,269.3 390.0,270.2 391.0,271.1 392.0,272.0 393.0,272.9 394.0,273.8 395.0,274.7 396.0,275.6 397.0,276.5 398.0,277.4 399.0,278.3 400.0,279.3 401.0,280.2 402.0,281.1 403.0,282.0 404.0,282.9 405.0,283.8 406.0,284.7 407.0,285.6 408.0,286.5 409.0,287.4 410.0,288.3 411.0,289.2 412.0,290.1 413.0,291.0 414.0,291.9 415.0,292.8 416.0,293.7 417.0,294.6 418.0,295.5 419.0,296.4 420.0,297.3 421.0,298.2 422.0,299.1 423.0,300.0 424.0,300.9 425.0,301.8 426.0,302.7 427.0,303.6 428.0,304.5 429.0,305.4 430.0,306.4 431.0,307.3 432.0,308.2 433.0,309.1 434.0,310.0 435.0,310.9 436.0,311.8 437.0,312.7 438.0,313.6 439.0,314.5 440.0,315.4 441.0,316.3 442.0,317.2 443.0,318.1 444.0,319.0 445.0,319.9 446.0,320.8 447.0,321.7 448.0,322.6 449.0,323.5 450.0,324.4 451.0,325.3 452.0,326.2 453.0,327.1 454.0,328.0 455.0,328.9 456.0,329.8 457.0,330.7 458.0,331.6 459.0,332.5 460.0,333.5 461.0,334.4 462.0,335.3 463.0,336.2 464.0,337.1 465.0,338.0 466.0,338.9 467.0,339.8 468.0,340.7 469.0,341.6 470.0,342.5 471.0,343.4 472.0,344.3 473.0,345.2 474.0,346.1 475.0,347.0 476.0,347.9 477.0,348.8 478.0,349.7 479.0,350.6 480.0,351.5 481.0,352.4 482.0,353.3 483.0,354.2 484.0,355.1 485.0,356.0 486.0,356.9 487.0,357.8 488.0,358.7 489.0,359.6 490.0,360.5 491.0,361.5 492.0,362.4 493.0,363.3 494.0,364.2 495.0,365.1 496.0,366.0 497.0,366.9 498.0,367.8 499.0,368.7 500.0,369.6 501.0,370.5 502.0,371.4 503.0,372.3 504.0,373.2 505.0,374.1 506.0,375.0 507.0,375.9 508.0,376.8 509.0,377.7 510.0,378.6 511.0,379.5 512.0,380.4 513.0,381.3 514.0,382.2 515.0,383.1 516.0,384.0 517.0,384.9 518.0,385.8 519.0,386.7 520.0,387.7 521.0,388.6 522.0,389.5 523.0,390.4 524.0,391.3 525.0,392.2 526.0,393.1 527.0,394.0 528.0,394.9 529.0,395.8 530.0,396.7 531.0,397.6 532.0,398.5 533.0,399.4 534.0,400.3 535.0,401.2 536.0,402.1 537.0,403.0 538.0,403.9 539.0,404.8 540.0,405.7 541.0,406.6 542.0,407.5 543.0,408.4 544.0,409.3 545.0,410.2 546.0,411.1 547.0,412.0 548.0,412.9 549.0,413.9 550.0,414.8 551.0,415.7 552.0,416.6 553.0,417.5 554.0,418.4 555.0,419.3 556.0,420.2 557.0,421.1 558.0,422.0 559.0,422.9 560.0,423.8 561.0,424.7 562.0,425.6 563.0,426.5 564.0,427.4 565.0,428.3 566.0,429.2 567.0,430.1 568.0,431.0 569.0,431.9 570.0,432.8 571.0,433.7 572.0,434.6 573.0,435.5 574.0,436.4 575.0,437.4 576.0,438.3 577.0,439.2 578.0,440.1 579.0,441.0 580.0,441.9 581.0,442.8 582.0,443.7 583.0,444.6 584.0,445.5 585.0,446.4 586.0,447.3 587.0,448.2 588.0,449.1 589.0,450.0 590.0,450.9 591.0,451.8 592.0,452.7 593.0,453.6 594.0,454.5 595.0,455.4 596.0,456.4 597.0,457.3 598.0,458.2 599.0,459.1 600.0,460.0 601.0,460.9 602.0,461.8 603.0,462.7 604.0,463.6 605.0,464.5 606.0,465.4 607.0,466.3 608.0,467.2 609.0,468.1 610.0,469.0 611.0,470.0 612.0,470.9 613.0,471.8 614.0,472.7 615.0,473.6 616.0,474.5 617.0,475.4 618.0,476.3 619.0,477.2 620.0,478.1 621.0,479.1 622.0,480.0 623.0,480.9 624.0,481.8 625.0,482.7 626.0,483.6 627.0,484.5 628.0,485.4 629.0,486.3 630.0,487.3 631.0,488.2 632.0,489.1 633.0,490.0 634.0,490.9 635.0,491.8 636.0,492.8 637.0,493.7 638.0,494.6 639.0,495.5 640.0,496.4 641.0,497.4 642.0,498.3 643.0,499.2 644.0,500.1 645.0,501.1 646.0,502.0 647.0,502.9 648.0,503.8 649.0,504.8 650.0,505.7 651.0,506.6 652.0,507.6 653.0,508.5 654.0,509.4 655.0,510.4 656.0,511.3 657.0,512.2 658.0,513.2 659.0,514.1 660.0,515.1 661.0,516.0 662.0,517.0 663.0,517.9 664.0,518.9 665.0,519.8 666.0,520.8 667.0,521.7 668.0,522.7 669.0,523.7 670.0,524.6 671.0,525.6 672.0,526.6 673.0,527.5 674.0,528.5 675.0,529.5 676.0,530.5 677.0,531.5 678.0,532.5 679.0,533.5 680.0,534.5 681.0,535.5 682.0,536.5 683.0,537.5 684.0,538.5 685.0,539.6 686.0,540.6 687.0,541.6 688.0,542.7 689.0,543.7 690.0,544.8 691.0,545.9 692.0,546.9 693.0,548.0 694.0,549.1 695.0,550.2 696.0,551.3 697.0,552.4 698.0,553.6 699.0,554.7 700.0,555.8 701.0,557.0 702.0,558.2 703.0,559.3 704.0,560.5 705.0,561.7 706.0,563.0 707.0,564.2 708.0,565.4 709.0,566.7 710.0,568.0 711.0,569.3 712.0,570.6 713.0,571.9 714.0,573.3 715.0,574.7 716.0,576.1 717.0,577.5 718.0,578.9 719.0,580.4 720.0,581.9 721.0,583.4 722.0,584.9 723.0,586.5 724.0,588.1 725.0,589.8 726.0,591.4 727.0,593.1 728.0,594.9 729.0,596.7 730.0,598.5 731.0,600.3 732.0,602.2 733.0,604.2 734.0,606.2 735.0,608.2 736.0,610.3 737.0,612.5 738.0,614.7 739.0,617.0 740.0,619.3 741.0,621.7 742.0,624.2 743.0,626.7 744.0,629.3 745.0,632.0 746.0,634.7 747.0,637.6 748.0,640.5 749.0,643.6 750.0,646.7 751.0,649.9 752.0,653.2 753.0,656.7 754.0,660.2 755.0,663.9 756.0,667.7 757.0,671.7 758.0,675.7 759.0,679.9 760.0,684.3 761.0,688.8 762.0,693.5 763.0,698.4" fill="none" stroke="#000080" stroke-width="2.3" stroke-dasharray="20 15" stroke-dashoffset="0"/>
<polyline points="172.0,74.1 173.0,75.0 174.0,75.9 175.0,76.8 176.0,77.7 177.0,78.6 178.0,79.5 179.0,80.4 180.0,81.3 181.0,82.2 182.0,83.1 183.0,84.0 184.0,84.9 185.0,85.8 186.0,86.7 187.0,87.6 188.0,88.6 189.0,89.5 190.0,90.4 191.0,91.3 192.0,92.2 193.0,93.1 194.0,94.0 195.0,94.9 196.0,95.8 197.0,96.7 198.0,97.6 199.0,98.5 200.0,99.4 201.0,100.3 202.0,101.2 203.0,102.1 204.0,103.0 205.0,103.9 206.0,104.8 207.0,105.7 208.0,106.6 209.0,107.5 210.0,108.4 211.0,109.3 212.0,110.2 213.0,111.1 214.0,112.0 215.0,112.9 216.0,113.8 217.0,114.7 218.0,115.7 219.0,116.6 220.0,117.5 221.0,118.4 222.0,119.3 223.0,120.2 224.0,121.1 225.0,122.0 226.0,122.9 227.0,123.8 228.0,124.7 229.0,125.6 230.0,126.5 231.0,127.4 232.0,128.3 233.0,129.2 234.0,130.1 235.0,131.0 236.0,131.9 237.0,132.8 238.0,133.7 239.0,134.6 240.0,135.5 241.0,136.4 242.0,137.3 243.0,138.2 244.0,139.1 245.0,140.0 246.0,140.9 247.0,141.8 248.0,142.8 249.0,143.7 250.0,144.6 251.0,145.5 252.0,146.4 253.0,147.3 254.0,148.2 255.0,149.1 256.0,150.0 257.0,150.9 258.0,151.8 259.0,152.7 260.0,153.6 261.0,154.5 262.0,155.4 263.0,156.3 264.0,157.2 265.0,158.1 266.0,159.0 267.0,159.9 268.0,160.8 269.0,161.7 270.0,162.6 271.0,163.5 272.0,164.4 273.0,165.3 274.0,166.2 275.0,167.1 276.0,168.0 277.0,168.9 278.0,169.8 279.0,170.8 280.0,171.7 281.0,172.6 282.0,173.5 283.0,174.4 284.0,175.3 285.0,176.2 286.0,177.1 287.0,178.0 288.0,178.9 289.0,179.8 290.0,180.7 291.0,181.6 292.0,182.5 293.0,183.4 294.0,184.3 295.0,185.2 296.0,186.1 297.0,187.0 298.0,187.9 299.0,188.8 300.0,189.7 301.0,190.6 302.0,191.5 303.0,192.4 304.0,193.3 305.0,194.2 306.0,195.1 307.0,196.0 308.0,196.9 309.0,197.9 310.0,198.8 311.0,199.7 312.0,200.6 313.0,201.5 314.0,202.4 315.0,203.3 316.0,204.2 317.0,205.1 318.0,206.0 319.0,206.9 320.0,207.8 321.0,208.7 322.0,209.6 323.0,210.5 324.0,211.4 325.0,212.3 326.0,213.2 327.0,214.1 328.0,215.0 329.0,215.9 330.0,216.8 331.0,217.7 332.0,218.6 333.0,219.5 334.0,220.4 335.0,221.3 336.0,222.2 337.0,223.1 338.0,224.0 339.0,225.0 340.0,225.9 341.0,226.8 342.0,227.7 343.0,228.6 344.0,229.5 345.0,230.4 346.0,231.3 347.0,232.2 348.0,233.1 349.0,234.0 350.0,234.9 351.0,235.8 352.0,236.7 353.0,237.6 354.0,238.5 355.0,239.4 356.0,240.3 357.0,241.2 358.0,242.1 359.0,243.0 360.0,243.9 361.0,244.8 362.0,245.7 363.0,246.6 364.0,247.5 365.0,248.4 366.0,249.3 367.0,250.2 368.0,251.1 369.0,252.1 370.0,253.0 371.0,253.9 372.0,254.8 373.0,255.7 374.0,256.6 375.0,257.5 376.0,258.4 377.0,259.3 378.0,260.2 379.0,261.1 380.0,262.0 381.0,262.9 382.0,263.8 383.0,264.7 384.0,265.6 385.0,266.5 386.0,267.4 387.0,268.3 388.0,269.2 389.0,270.1 390.0,271.0 391.0,271.9 392.0,272.8 393.0,273.7 394.0,274.6 395.0,275.5 396.0,276.4 397.0,277.3 398.0,278.2 399.0,279.1 400.0,280.1 401.0,281.0 402.0,281.9 403.0,282.8 404.0,283.7 405.0,284.6 406.0,285.5 407.0,286.4 408.0,287.3 409.0,288.2 410.0,289.1 411.0,290.0 412.0,290.9 413.0,291.8 414.0,292.7 415.0,293.6 416.0,294.5 417.0,295.4 418.0,296.3 419.0,297.2 420.0,298.1 421.0,299.0 422.0,299.9 423.0,300.8 424.0,301.7 425.0,302.6 426.0,303.5 427.0,304.4 428.0,305.3 429.0,306.2 430.0,307.2 431.0,308.1 432.0,309.0 433.0,309.9 434.0,310.8 435.0,311.7 436.0,312.6 437.0,313.5 438.0,314.4 439.0,315.3 440.0,316.2 441.0,317.1 442.0,318.0 443.0,318.9 444.0,319.8 445.0,320.7 446.0,321.6 447.0,322.5 448.0,323.4 449.0,324.3 450.0,325.2 451.0,326.1 452.0,327.0 453.0,327.9 454.0,328.8 455.0,329.7 456.0,330.6 457.0,331.5 458.0,332.4 459.0,333.3 460.0,334.3 461.0,335.2 462.0,336.1 463.0,337.0 464.0,337.9 465.0,338.8 466.0,339.7 467.0,340.6 468.0,341.5 469.0,342.4 470.0,343.3 471.0,344.2 472.0,345.1 473.0,346.0 474.0,346.9 475.0,347.8 476.0,348.7 477.0,349.6 478.0,350.5 479.0,351.4 480.0,352.3 481.0,353.2 482.0,354.1 483.0,355.0 484.0,355.9 485.0,356.8 486.0,357.7 487.0,358.6 488.0,359.5 489.0,360.4 490.0,361.3 491.0,362.3 492.0,363.2 493.0,364.1 494.0,365.0 495.0,365.9 496.0,366.8 497.0,367.7 498.0,368.6 499.0,369.5 500.0,370.4 501.0,371.3 502.0,372.2 503.0,373.1 504.0,374.0 505.0,374.9 506.0,375.8 507.0,376.7 508.0,377.6 509.0,378.5 510.0,379.4 511.0,380.3 512.0,381.2 513.0,382.1 514.0,383.0 515.0,383.9 516.0,384.8 517.0,385.7 518.0,386.6 519.0,387.5 520.0,388.4 521.0,389.4 522.0,390.3 523.0,391.2 524.0,392.1 525.0,393.0 526.0,393.9 527.0,394.8 528.0,395.7 529.0,396.6 530.0,397.5 531.0,398.4 532.0,399.3 533.0,400.2 534.0,401.1 535.0,402.0 536.0,402.9 537.0,403.8 538.0,404.7 539.0,405.6 540.0,406.5 541.0,407.4 542.0,408.3 543.0,409.2 544.0,410.1 545.0,411.0 546.0,411.9 547.0,412.8 548.0,413.7 549.0,414.6 550.0,415.5 551.0,416.5 552.0,417.4 553.0,418.3 554.0,419.2 555.0,420.1 556.0,421.0 557.0,421.9 558.0,422.8 559.0,423.7 560.0,424.6 561.0,425.5 562.0,426.4 563.0,427.3 564.0,428.2 565.0,429.1 566.0,430.0 567.0,430.9 568.0,431.8 569.0,432.7 570.0,433.6 571.0,434.5 572.0,435.4 573.0,436.3 574.0,437.2 575.0,438.1 576.0,439.0 577.0,439.9 578.0,440.8 579.0,441.7 580.0,442.6 581.0,443.5 582.0,444.5 583.0,445.4 584.0,446.3 585.0,447.2 586.0,448.1 587.0,449.0 588.0,449.9 589.0,450.8 590.0,451.7 591.0,452.6 592.0,453.5 593.0,454.4 594.0,455.3 595.0,456.2 596.0,457.1 597.0,458.0 598.0,458.9 599.0,459.8 600.0,460.7 601.0,461.6 602.0,462.5 603.0,463.4 604.0,464.3 605.0,465.2 606.0,466.1 607.0,467.0 608.0,467.9 609.0,468.8 610.0,469.7 611.0,470.6 612.0,471.6 613.0,472.5 614.0,473.4 615.0,474.3 616.0,475.2 617.0,476.1 618.0,477.0 619.0,477.9 620.0,478.8 621.0,479.7 622.0,480.6 623.0,481.5 624.0,482.4 625.0,483.3 626.0,484.2 627.0,485.1 628.0,486.0 629.0,486.9 630.0,487.8 631.0,488.7 632.0,489.6 633.0,490.5 634.0,491.4 635.0,492.3 636.0,493.2 637.0,494.1 638.0,495.0 639.0,495.9 640.0,496.8 641.0,497.8 642.0,498.7 643.0,499.6 644.0,500.5 645.0,501.4 646.0,502.3 647.0,503.2 648.0,504.1 649.0,505.0 650.0,505.9 651.0,506.8 652.0,507.7 653.0,508.6 654.0,509.5 655.0,510.4 656.0,511.3 657.0,512.2 658.0,513.1 659.0,514.0 660.0,514.9 661.0,515.8 662.0,516.7 663.0,517.6 664.0,518.5 665.0,519.4 666.0,520.3 667.0,521.2 668.0,522.1 669.0,523.0 670.0,524.0 671.0,524.9 672.0,525.8 673.0,526.7 674.0,527.6 675.0,528.5 676.0,529.4 677.0,530.3 678.0,531.2 679.0,532.1 680.0,533.0 681.0,533.9 682.0,534.8 683.0,535.7 684.0,536.6 685.0,537.5 686.0,538.4 687.0,539.3 688.0,540.2 689.0,541.1 690.0,542.0 691.0,542.9 692.0,543.8 693.0,544.7 694.0,545.7 695.0,546.6 696.0,547.5 697.0,548.4 698.0,549.3 699.0,550.2 700.0,551.1 701.0,552.0 702.0,552.9 703.0,553.8 704.0,554.7 705.0,555.6 706.0,556.5 707.0,557.4 708.0,558.3 709.0,559.2 710.0,560.1 711.0,561.0 712.0,561.9 713.0,562.9 714.0,563.8 715.0,564.7 716.0,565.6 717.0,566.5 718.0,567.4 719.0,568.3 720.0,569.2 721.0,570.1 722.0,571.0 723.0,571.9 724.0,572.8 725.0,573.7 726.0,574.6 727.0,575.6 728.0,576.5 729.0,577.4 730.0,578.3 731.0,579.2 732.0,580.1 733.0,581.0 734.0,581.9 735.0,582.8 736.0,583.7 737.0,584.7 738.0,585.6 739.0,586.5 740.0,587.4 741.0,588.3 742.0,589.2 743.0,590.1 744.0,591.0 745.0,592.0 746.0,592.9 747.0,593.8 748.0,594.7 749.0,595.6 750.0,596.5 751.0,597.5 752.0,598.4 753.0,599.3 754.0,600.2 755.0,601.1 756.0,602.1 757.0,603.0 758.0,603.9 759.0,604.8 760.0,605.8 761.0,606.7 762.0,607.6 763.0,608.5 764.0,609.5 765.0,610.4 766.0,611.3 767.0,612.3 768.0,613.2 769.0,614.1 770.0,615.1 771.0,616.0 772.0,617.0 773.0,617.9 774.0,618.9 775.0,619.8 776.0,620.8 777.0,621.7 778.0,622.7 779.0,623.6 780.0,624.6 781.0,625.5 782.0,626.5 783.0,627.5 784.0,628.4 785.0,629.4 786.0,630.4 787.0,631.4 788.0,632.3 789.0,633.3 790.0,634.3 791.0,635.3 792.0,636.3 793.0,637.3 794.0,638.3 795.0,639.3 796.0,640.3 797.0,641.4 798.0,642.4 799.0,643.4 800.0,644.4 801.0,645.5 802.0,646.5 803.0,647.6 804.0,648.7 805.0,649.7 806.0,650.8 807.0,651.9 808.0,653.0 809.0,654.1 810.0,655.2 811.0,656.3 812.0,657.4 813.0,658.6 814.0,659.7 815.0,660.9 816.0,662.1 817.0,663.3 818.0,664.5 819.0,665.7" fill="none" stroke="#000080" stroke-width="2.3" stroke-dasharray="20 15" stroke-dashoffset="-4"/>
<line x1="172.0" y1="67.5" x2="818.8" y2="654.3" stroke="#0ff" stroke-width="2.4"/>
</g>
<path d="M187.59 664.3 v-11.4 M187.59 11.0 v11.4 M218.77 664.3 v-11.4 M218.77 11.0 v11.4 M249.95 664.3 v-11.4 M249.95 11.0 v11.4 M281.13 664.3 v-11.4 M281.13 11.0 v11.4 M312.31 664.3 v-23.8 M312.31 11.0 v23.8 M343.49 664.3 v-11.4 M343.49 11.0 v11.4 M374.67 664.3 v-11.4 M374.67 11.0 v11.4 M405.85 664.3 v-11.4 M405.85 11.0 v11.4 M437.03 664.3 v-11.4 M437.03 11.0 v11.4 M468.21 664.3 v-23.8 M468.21 11.0 v23.8 M499.39 664.3 v-11.4 M499.39 11.0 v11.4 M530.57 664.3 v-11.4 M530.57 11.0 v11.4 M561.75 664.3 v-11.4 M561.75 11.0 v11.4 M592.93 664.3 v-11.4 M592.93 11.0 v11.4 M624.11 664.3 v-23.8 M624.11 11.0 v23.8 M655.29 664.3 v-11.4 M655.29 11.0 v11.4 M686.47 664.3 v-11.4 M686.47 11.0 v11.4 M717.65 664.3 v-11.4 M717.65 11.0 v11.4 M748.83 664.3 v-11.4 M748.83 11.0 v11.4 M780.01 664.3 v-23.8 M780.01 11.0 v23.8 M811.19 664.3 v-11.4 M811.19 11.0 v11.4 M172.0 18.87 h11.4 M818.8 18.87 h-11.4 M172.0 50.36 h23.8 M818.8 50.36 h-23.8 M172.0 81.84 h11.4 M818.8 81.84 h-11.4 M172.0 113.32 h11.4 M818.8 113.32 h-11.4 M172.0 144.81 h11.4 M818.8 144.81 h-11.4 M172.0 176.29 h11.4 M818.8 176.29 h-11.4 M172.0 207.78 h23.8 M818.8 207.78 h-23.8 M172.0 239.26 h11.4 M818.8 239.26 h-11.4 M172.0 270.75 h11.4 M818.8 270.75 h-11.4 M172.0 302.23 h11.4 M818.8 302.23 h-11.4 M172.0 333.71 h11.4 M818.8 333.71 h-11.4 M172.0 365.20 h23.8 M818.8 365.20 h-23.8 M172.0 396.68 h11.4 M818.8 396.68 h-11.4 M172.0 428.17 h11.4 M818.8 428.17 h-11.4 M172.0 459.65 h11.4 M818.8 459.65 h-11.4 M172.0 491.14 h11.4 M818.8 491.14 h-11.4 M172.0 522.62 h23.8 M818.8 522.62 h-23.8 M172.0 554.10 h11.4 M818.8 554.10 h-11.4 M172.0 585.59 h11.4 M818.8 585.59 h-11.4 M172.0 617.07 h11.4 M818.8 617.07 h-11.4 M172.0 648.56 h11.4 M818.8 648.56 h-11.4 " stroke="#000" stroke-width="2.2" fill="none"/>
<rect x="172.0" y="11.0" width="646.8" height="653.3" fill="none" stroke="#000" stroke-width="2.2"/>
<g transform="translate(152.50 62.17) scale(1.125 1.125)" fill="none" stroke="#000" stroke-linecap="butt" stroke-linejoin="round" vector-effect="non-scaling-stroke" class="t"><path transform="translate(-46.000 0.000) scale(1.0)" d="M4 -9 L22 -9" stroke-width="2.4"/><path transform="translate(-20.000 0.000) scale(1.0)" d="M4 -16 L4 -17 L5 -19 L6 -20 L8 -21 L12 -21 L14 -20 L15 -19 L16 -17 L16 -15 L15 -13 L13 -10 L3 0 L17 0" stroke-width="2.4"/></g>
<g transform="translate(152.50 219.59) scale(1.125 1.125)" fill="none" stroke="#000" stroke-linecap="butt" stroke-linejoin="round" vector-effect="non-scaling-stroke" class="t"><path transform="translate(-46.000 0.000) scale(1.0)" d="M4 -9 L22 -9" stroke-width="2.4"/><path transform="translate(-20.000 0.000) scale(1.0)" d="M3 -4 L4 -2 L5 -1 L8 0 L11 0 L14 -1 L16 -3 L17 -6 L17 -8 L16 -11 L15 -12 L13 -13 L10 -13 L16 -21 L5 -21" stroke-width="2.4"/></g>
<g transform="translate(152.50 377.01) scale(1.125 1.125)" fill="none" stroke="#000" stroke-linecap="butt" stroke-linejoin="round" vector-effect="non-scaling-stroke" class="t"><path transform="translate(-46.000 0.000) scale(1.0)" d="M4 -9 L22 -9" stroke-width="2.4"/><path transform="translate(-20.000 0.000) scale(1.0)" d="M13 -7 L3 -7 L13 -21 L13 -7 M13 -7 L13 0 M13 -7 L18 -7" stroke-width="2.4"/></g>
<g transform="translate(152.50 534.43) scale(1.125 1.125)" fill="none" stroke="#000" stroke-linecap="butt" stroke-linejoin="round" vector-effect="non-scaling-stroke" class="t"><path transform="translate(-46.000 0.000) scale(1.0)" d="M4 -9 L22 -9" stroke-width="2.4"/><path transform="translate(-20.000 0.000) scale(1.0)" d="M3 -4 L4 -2 L5 -1 L8 0 L11 0 L14 -1 L16 -3 L17 -6 L17 -8 L16 -11 L14 -13 L11 -14 L8 -14 L5 -13 L4 -12 L5 -21 L15 -21" stroke-width="2.4"/></g>
<g transform="translate(312.31 708.10) scale(1.125 1.125)" fill="none" stroke="#000" stroke-linecap="butt" stroke-linejoin="round" vector-effect="non-scaling-stroke" class="t"><path transform="translate(-20.000 0.000) scale(1.0)" d="M6 -17 L8 -18 L11 -21 L11 0" stroke-width="2.4"/><path transform="translate(0.000 0.000) scale(1.0)" d="M6 -17 L8 -18 L11 -21 L11 0" stroke-width="2.4"/></g>
<g transform="translate(468.21 708.10) scale(1.125 1.125)" fill="none" stroke="#000" stroke-linecap="butt" stroke-linejoin="round" vector-effect="non-scaling-stroke" class="t"><path transform="translate(-20.000 0.000) scale(1.0)" d="M6 -17 L8 -18 L11 -21 L11 0" stroke-width="2.4"/><path transform="translate(0.000 0.000) scale(1.0)" d="M4 -16 L4 -17 L5 -19 L6 -20 L8 -21 L12 -21 L14 -20 L15 -19 L16 -17 L16 -15 L15 -13 L13 -10 L3 0 L17 0" stroke-width="2.4"/></g>
<g transform="translate(624.11 708.10) scale(1.125 1.125)" fill="none" stroke="#000" stroke-linecap="butt" stroke-linejoin="round" vector-effect="non-scaling-stroke" class="t"><path transform="translate(-20.000 0.000) scale(1.0)" d="M6 -17 L8 -18 L11 -21 L11 0" stroke-width="2.4"/><path transform="translate(0.000 0.000) scale(1.0)" d="M3 -4 L4 -2 L5 -1 L8 0 L11 0 L14 -1 L16 -3 L17 -6 L17 -8 L16 -11 L15 -12 L13 -13 L10 -13 L16 -21 L5 -21" stroke-width="2.4"/></g>
<g transform="translate(780.01 708.10) scale(1.125 1.125)" fill="none" stroke="#000" stroke-linecap="butt" stroke-linejoin="round" vector-effect="non-scaling-stroke" class="t"><path transform="translate(-20.000 0.000) scale(1.0)" d="M6 -17 L8 -18 L11 -21 L11 0" stroke-width="2.4"/><path transform="translate(0.000 0.000) scale(1.0)" d="M13 -7 L3 -7 L13 -21 L13 -7 M13 -7 L13 0 M13 -7 L18 -7" stroke-width="2.4"/></g>
<g transform="translate(426.00 765.90) scale(1.1 1.11)" fill="none" stroke="#000" stroke-linecap="butt" stroke-linejoin="round" vector-effect="non-scaling-stroke" class="t"><path transform="translate(0.000 0.000) scale(1.0)" d="M4 -21 L4 0" stroke-width="2.4"/><path transform="translate(8.000 0.000) scale(1.0)" d="M2.22 -8 L2.22 -6 L3.34 -3 L5.58 -1 L7.82 0 L11.18 0 L13.42 -1 L15.66 -3 L16.78 -6 L16.78 -8 L15.66 -11 L13.42 -13 L11.18 -14 L7.82 -14 L5.58 -13 L3.34 -11 L2.22 -8" stroke-width="2.4"/><path transform="translate(27.000 0.000) scale(1.0)" d="M6 6 L8 7 L11 7 L13 6 L14 5 L15 2 L15 -3 M15 -14 L15 -11 M15 -11 L13 -13 L11 -14 L8 -14 L6 -13 L4 -11 L3 -8 L3 -6 L4 -3 L6 -1 L8 0 L11 0 L13 -1 L15 -3 M15 -11 L15 -3" stroke-width="2.4"/><path transform="translate(46.000 0.000) scale(1.0)" d="M11 -25 L9 -23 L7 -20 L5 -16 L4 -11 L4 -7 L5 -2 L7 2 L9 5 L11 7 M11 -25 L8.5 -23 L6.3 -20 L4.2 -16 L3.2 -11 L3.2 -7 L4.2 -2 L6.3 2 L8.5 5 L11 7" stroke-width="2.4"/><path transform="translate(60.000 0.000) scale(1.0)" d="M4 -14 L4 -10 M4 -10 L4 0 M4 -10 L7 -13 L9 -14 L12 -14 L14 -13 L15 -10 M15 -10 L15 0 M15 -10 L18 -13 L20 -14 L23 -14 L25 -13 L26 -10 L26 0" stroke-width="2.4"/><path transform="translate(90.000 9.800) scale(0.62)" d="M3 -3 L4 -1 L7 0 L10 0 L13 -1 L14 -3 L14 -4 L13 -6 L11 -7 L6 -8 L4 -9 L3 -11 L4 -13 L7 -14 L10 -14 L13 -13 L14 -11" stroke-width="2.4"/><path transform="translate(100.540 9.800) scale(0.62)" d="M4 -21 L4 -11 M4 -11 L4 -3 M4 -11 L6 -13 L8 -14 L11 -14 L13 -13 L15 -11 L16 -8 L16 -6 L15 -3 L13 -1 L11 0 L8 0 L6 -1 L4 -3 M4 -3 L4 0" stroke-width="2.4"/><path transform="translate(112.320 0.000) scale(1.0)" d="M3 -25 L5 -23 L7 -20 L9 -16 L10 -11 L10 -7 L9 -2 L7 2 L5 5 L3 7 M3 -25 L5.5 -23 L7.7 -20 L9.8 -16 L10.8 -11 L10.8 -7 L9.8 -2 L7.7 2 L5.5 5 L3 7" stroke-width="2.4"/></g>
<g transform="translate(41.80 548.50) rotate(-90) scale(1.11 1.1)" fill="none" stroke="#000" stroke-linecap="butt" stroke-linejoin="round" vector-effect="non-scaling-stroke" class="t"><path transform="translate(0.000 0.000) scale(1.0)" d="M4 -21 L4 0" stroke-width="2.4"/><path transform="translate(8.000 0.000) scale(1.0)" d="M2.22 -8 L2.22 -6 L3.34 -3 L5.58 -1 L7.82 0 L11.18 0 L13.42 -1 L15.66 -3 L16.78 -6 L16.78 -8 L15.66 -11 L13.42 -13 L11.18 -14 L7.82 -14 L5.58 -13 L3.34 -11 L2.22 -8" stroke-width="2.4"/><path transform="translate(27.000 0.000) scale(1.0)" d="M6 6 L8 7 L11 7 L13 6 L14 5 L15 2 L15 -3 M15 -14 L15 -11 M15 -11 L13 -13 L11 -14 L8 -14 L6 -13 L4 -11 L3 -8 L3 -6 L4 -3 L6 -1 L8 0 L11 0 L13 -1 L15 -3 M15 -11 L15 -3" stroke-width="2.4"/><path transform="translate(46.000 0.000) scale(1.0)" d="M11 -25 L4 -25 L4 7 L11 7 M4.7 -25 L4.7 7" stroke-width="2.4"/><path transform="translate(60.000 0.000) scale(1.0)" d="M15 -21 L15 -11 M15 -11 L13 -13 L11 -14 L8 -14 L6 -13 L4 -11 L3 -8 L3 -6 L4 -3 L6 -1 L8 0 L11 0 L13 -1 L15 -3 M15 -11 L15 -3 M15 -3 L15 0" stroke-width="2.4"/><path transform="translate(79.000 0.000) scale(1.0)" d="M4 0 L4 -21 L18 0 L18 -21" stroke-width="2.4"/><path transform="translate(101.000 9.800) scale(0.6)" d="M4 0 L4 -21 L12 0 L20 -21 L20 0" stroke-width="2.4"/><path transform="translate(115.400 0.000) scale(1.0)" d="M2 7 L20 -25" stroke-width="2.4"/><path transform="translate(137.400 0.000) scale(1.0)" d="M15 -21 L15 -11 M15 -11 L13 -13 L11 -14 L8 -14 L6 -13 L4 -11 L3 -8 L3 -6 L4 -3 L6 -1 L8 0 L11 0 L13 -1 L15 -3 M15 -11 L15 -3 M15 -3 L15 0" stroke-width="2.4"/><path transform="translate(156.400 0.000) scale(1.0)" d="M4 -21 L4 0" stroke-width="2.4"/><path transform="translate(164.400 0.000) scale(1.0)" d="M4 -14 L4 -10 M4 -10 L4 0 M4 -10 L7 -13 L9 -14 L12 -14 L14 -13 L15 -10 L15 0" stroke-width="2.4"/><path transform="translate(183.400 0.000) scale(1.0)" d="M11 -25 L9 -23 L7 -20 L5 -16 L4 -11 L4 -7 L5 -2 L7 2 L9 5 L11 7 M11 -25 L8.5 -23 L6.3 -20 L4.2 -16 L3.2 -11 L3.2 -7 L4.2 -2 L6.3 2 L8.5 5 L11 7" stroke-width="2.4"/><path transform="translate(197.400 0.000) scale(1.0)" d="M4 -14 L4 -10 M4 -10 L4 0 M4 -10 L7 -13 L9 -14 L12 -14 L14 -13 L15 -10 M15 -10 L15 0 M15 -10 L18 -13 L20 -14 L23 -14 L25 -13 L26 -10 L26 0" stroke-width="2.4"/><path transform="translate(227.400 9.800) scale(0.6)" d="M3 -3 L4 -1 L7 0 L10 0 L13 -1 L14 -3 L14 -4 L13 -6 L11 -7 L6 -8 L4 -9 L3 -11 L4 -13 L7 -14 L10 -14 L13 -13 L14 -11" stroke-width="2.4"/><path transform="translate(237.600 9.800) scale(0.6)" d="M4 -21 L4 -11 M4 -11 L4 -3 M4 -11 L6 -13 L8 -14 L11 -14 L13 -13 L15 -11 L16 -8 L16 -6 L15 -3 L13 -1 L11 0 L8 0 L6 -1 L4 -3 M4 -3 L4 0" stroke-width="2.4"/><path transform="translate(249.000 0.000) scale(1.0)" d="M3 -25 L5 -23 L7 -20 L9 -16 L10 -11 L10 -7 L9 -2 L7 2 L5 5 L3 7 M3 -25 L5.5 -23 L7.7 -20 L9.8 -16 L10.8 -11 L10.8 -7 L9.8 -2 L7.7 2 L5.5 5 L3 7" stroke-width="2.4"/><path transform="translate(279.000 0.000) scale(1.0)" d="M4.5 -15 L17.5 -2 M17.5 -15 L4.5 -2" stroke-width="2.4"/><path transform="translate(301.000 0.000) scale(1.0)" d="M6 -17 L8 -18 L11 -21 L11 0" stroke-width="2.4"/><path transform="translate(321.000 0.000) scale(1.0)" d="M3 -12 L3 -9 L4 -4 L6 -1 L9 0 L11 0 L14 -1 L16 -4 L17 -9 L17 -12 L16 -17 L14 -20 L11 -21 L9 -21 L6 -20 L4 -17 L3 -12" stroke-width="2.4"/><path transform="translate(341.000 -10.000) scale(0.6)" d="M6 -17 L8 -18 L11 -21 L11 0" stroke-width="2.4"/><path transform="translate(353.000 -10.000) scale(0.6)" d="M3 -12 L3 -9 L4 -4 L6 -1 L9 0 L11 0 L14 -1 L16 -4 L17 -9 L17 -12 L16 -17 L14 -20 L11 -21 L9 -21 L6 -20 L4 -17 L3 -12" stroke-width="2.4"/><path transform="translate(365.000 0.000) scale(1.0)" d="M3 -25 L10 -25 L10 7 L3 7 M9.3 -25 L9.3 7" stroke-width="2.4"/></g>
<line x1="430" y1="66.1" x2="583" y2="66.1" stroke="#000080" stroke-width="2.3" stroke-dasharray="19.5 15.5"/>
<line x1="430" y1="112.8" x2="583" y2="112.8" stroke="#0ff" stroke-width="2.3"/>
<g transform="translate(584.45 66.00) scale(1.1145 1.1)" fill="none" stroke="#000080" stroke-linecap="butt" stroke-linejoin="round" vector-effect="non-scaling-stroke" class="t"><path transform="translate(0.000 0.000) scale(1.0)" d="M2 -14 L5 -14 M5 -14 L5 -17 L6 -20 L8 -21 L10 -21 M5 -14 L5 0 M5 -14 L9 -14" stroke-width="2.4"/><path transform="translate(12.000 0.000) scale(1.0)" d="M4 -14 L4 0 M3 -21 L4 -22 L5 -21 L4 -20 L3 -21" stroke-width="2.4"/><path transform="translate(20.000 0.000) scale(1.0)" d="M2 -14 L5 -14 M5 -21 L5 -14 M5 -14 L5 -4 L6 -1 L8 0 L10 0 M5 -14 L9 -14" stroke-width="2.4"/><path transform="translate(48.000 0.000) scale(1.0)" d="M9.42 -14 L7.28 -13 L5.14 -11 L4.07 -9 L3.00 -6 L3.00 -3 L4.07 -1 L6.21 0 L8.35 0 L10.49 -1 L13.70 -4 L15.84 -7 L17.98 -11 L19.05 -14 M9.42 -14 L11.56 -14 L12.63 -13 L13.70 -11 L15.84 -3 L16.91 -1 L17.98 0 L19.05 0" stroke-width="3.0"/><path transform="translate(70.500 0.000) scale(1.0)" d="M4 -12 L22 -12 M4 -6 L22 -6" stroke-width="2.4"/><path transform="translate(112.500 0.000) scale(1.0)" d="M4 -9 L22 -9" stroke-width="2.4"/><path transform="translate(138.500 0.000) scale(1.0)" d="M3 -12 L3 -9 L4 -4 L6 -1 L9 0 L11 0 L14 -1 L16 -4 L17 -9 L17 -12 L16 -17 L14 -20 L11 -21 L9 -21 L6 -20 L4 -17 L3 -12" stroke-width="2.4"/><path transform="translate(158.500 0.000) scale(1.0)" d="M4 -1 L5 -2 L6 -1 L5 0 L4 -1" stroke-width="2.4"/><path transform="translate(168.500 0.000) scale(1.0)" d="M4 -3 L5 -1 L8 0 L10 0 L13 -1 L15 -4 L16 -9 L16 -14 M16 -14 L15 -18 L13 -20 L10 -21 L9 -21 L6 -20 L4 -18 L3 -15 L3 -14 L4 -11 L6 -9 L9 -8 L10 -8 L13 -9 L15 -11 L16 -14" stroke-width="2.4"/></g>
<g transform="translate(584.70 113.20) scale(1.113 1.1)" fill="none" stroke="#0ff" stroke-linecap="butt" stroke-linejoin="round" vector-effect="non-scaling-stroke" class="t"><path transform="translate(0.000 0.000) scale(1.0)" d="M4 -14 L4 -10 M4 -10 L4 0 M4 -10 L7 -13 L9 -14 L12 -14 L14 -13 L15 -10 M15 -10 L15 0 M15 -10 L18 -13 L20 -14 L23 -14 L25 -13 L26 -10 L26 0" stroke-width="2.4"/><path transform="translate(30.000 0.000) scale(1.0)" d="M3 -8 L3 -6 L4 -3 L6 -1 L8 0 L11 0 L13 -1 L15 -3 M3 -8 L4 -11 L6 -13 L8 -14 L11 -14 L13 -13 L14 -12 L15 -10 L15 -8 L3 -8" stroke-width="2.4"/><path transform="translate(48.000 0.000) scale(1.0)" d="M15 -14 L15 -11 M15 -11 L13 -13 L11 -14 L8 -14 L6 -13 L4 -11 L3 -8 L3 -6 L4 -3 L6 -1 L8 0 L11 0 L13 -1 L15 -3 M15 -11 L15 -3 M15 -3 L15 0" stroke-width="2.4"/><path transform="translate(67.000 0.000) scale(1.0)" d="M4 -14 L4 -10 M4 -10 L4 0 M4 -10 L7 -13 L9 -14 L12 -14 L14 -13 L15 -10 L15 0" stroke-width="2.4"/><path transform="translate(102.000 0.000) scale(1.0)" d="M4 0 L4 -21 L18 0 L18 -21" stroke-width="2.4"/><path transform="translate(124.000 9.800) scale(0.6)" d="M4 0 L4 -21 L12 0 L20 -21 L20 0" stroke-width="2.4"/><path transform="translate(138.400 15.680) scale(0.36)" d="M3 -12 L3 -9 L4 -4 L6 -1 L9 0 L11 0 L14 -1 L16 -4 L17 -9 L17 -12 L16 -17 L14 -20 L11 -21 L9 -21 L6 -20 L4 -17 L3 -12" stroke-width="2.4"/></g>
<g transform="translate(584.20 175.90) scale(1.125 1.08)" fill="none" stroke="#000" stroke-linecap="butt" stroke-linejoin="round" vector-effect="non-scaling-stroke" class="t"><path transform="translate(0.000 0.000) scale(1.0)" d="M3 -14 L14 -14 L3 0 L14 0" stroke-width="2.4"/><path transform="translate(17.000 0.000) scale(1.0)" d="M4 -12 L22 -12 M4 -6 L22 -6" stroke-width="2.4"/><path transform="translate(43.000 0.000) scale(1.0)" d="M3 -12 L3 -9 L4 -4 L6 -1 L9 0 L11 0 L14 -1 L16 -4 L17 -9 L17 -12 L16 -17 L14 -20 L11 -21 L9 -21 L6 -20 L4 -17 L3 -12" stroke-width="2.4"/></g>
</svg></body></html>
